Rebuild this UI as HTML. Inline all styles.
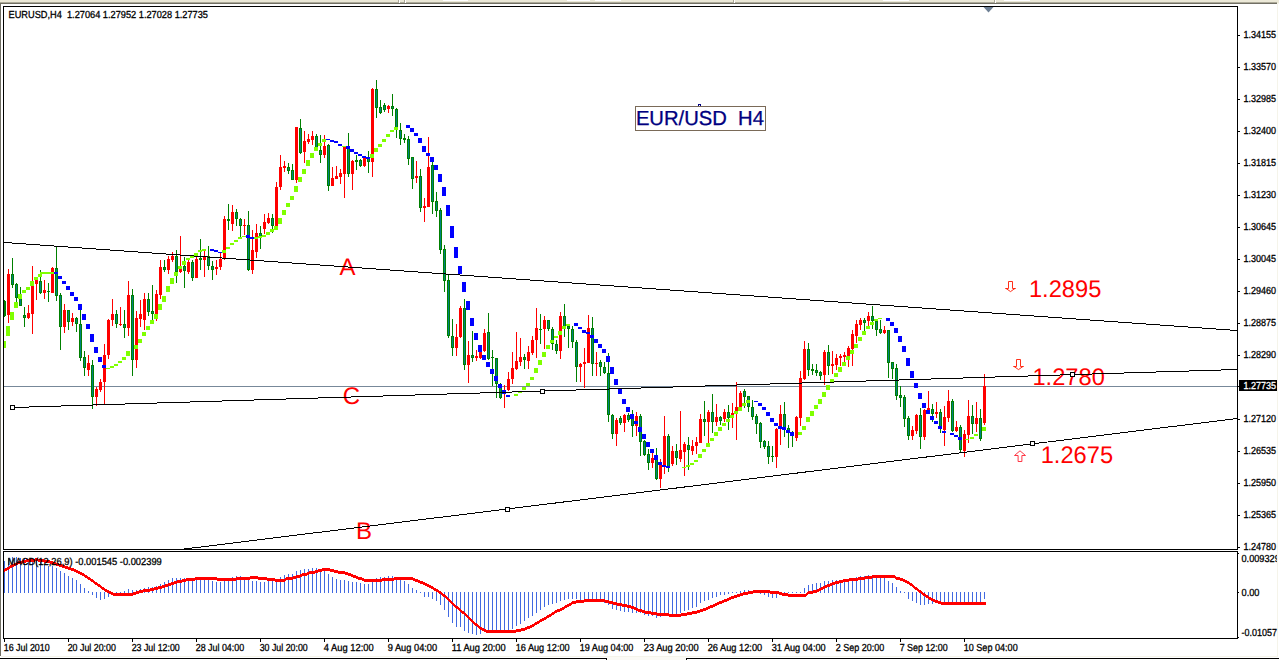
<!DOCTYPE html>
<html><head><meta charset="utf-8"><title>EURUSD H4</title>
<style>
html,body{margin:0;padding:0;background:#fff;overflow:hidden}
svg{display:block}
text{font-family:"Liberation Sans",sans-serif;text-rendering:geometricPrecision}
</style></head><body>
<svg width="1279" height="660" viewBox="0 0 1279 660" shape-rendering="crispEdges">
<rect x="0" y="0" width="1279" height="660" fill="#FFFFFF"/>
<rect x="0" y="0" width="1279" height="2" fill="#ECE9D8"/>
<rect x="0" y="2" width="1277" height="1" fill="#ADAA99"/>
<rect x="1277" y="2" width="2" height="1" fill="#ECE9D8"/>
<rect x="0" y="3" width="1277" height="1" fill="#716F64"/>
<rect x="1277" y="3" width="2" height="1" fill="#F5F4EA"/>
<rect x="0" y="4" width="1" height="652" fill="#716F64"/>
<rect x="1277" y="4" width="1" height="652" fill="#F5F4EA"/>
<rect x="1" y="656" width="1277" height="1" fill="#F5F4EA"/>
<rect x="0" y="658" width="607" height="1" fill="#000"/>
<rect x="686" y="658" width="593" height="1" fill="#000"/>
<rect x="606" y="658" width="1" height="2" fill="#000"/>
<rect x="686" y="658" width="1" height="2" fill="#000"/>
<rect x="607" y="657" width="79" height="3" fill="#FBFAF5"/>
<rect x="398" y="0" width="1" height="3" fill="#ACA899"/>
<rect x="399" y="0" width="1" height="3" fill="#FFFFFF"/>
<rect x="404" y="0" width="1" height="3" fill="#ACA899"/>
<rect x="405" y="0" width="1" height="3" fill="#FFFFFF"/>
<rect x="733" y="0" width="1" height="3" fill="#ACA899"/>
<rect x="734" y="0" width="1" height="3" fill="#FFFFFF"/>
<rect x="994" y="0" width="1" height="3" fill="#ACA899"/>
<rect x="995" y="0" width="1" height="3" fill="#FFFFFF"/>
<rect x="443" y="0" width="25" height="1" fill="#FFFFFF"/>
<rect x="567" y="0" width="23" height="1" fill="#FFFFFF"/>
<rect x="595" y="0" width="26" height="1" fill="#FFFFFF"/>
<rect x="883" y="0" width="26" height="1" fill="#FFFFFF"/>
<rect x="1004" y="0" width="26" height="1" fill="#FFFFFF"/>
<rect x="3" y="6" width="1235" height="1" fill="#000"/>
<rect x="3" y="6" width="1" height="544" fill="#000"/>
<rect x="3" y="551" width="1" height="88" fill="#000"/>
<rect x="1237" y="6" width="1" height="544" fill="#000"/>
<rect x="1237" y="551" width="1" height="88" fill="#000"/>
<rect x="3" y="549" width="1235" height="1" fill="#000"/>
<rect x="3" y="551" width="1235" height="1" fill="#000"/>
<rect x="3" y="638" width="1235" height="1" fill="#000"/>
<rect x="4" y="386" width="1233" height="1" fill="#778899"/>
<rect x="4" y="300" width="1" height="17" fill="#008000"/>
<rect x="4" y="301" width="2" height="15" fill="#008000"/>
<rect x="8" y="269" width="1" height="54" fill="#FF0000"/>
<rect x="7" y="274" width="3" height="41" fill="#FF0000"/>
<rect x="12" y="258" width="1" height="30" fill="#008000"/>
<rect x="11" y="274" width="3" height="11" fill="#008000"/>
<rect x="12" y="275" width="1" height="9" fill="#008080"/>
<rect x="16" y="283" width="1" height="19" fill="#008000"/>
<rect x="15" y="284" width="3" height="14" fill="#008000"/>
<rect x="16" y="285" width="1" height="12" fill="#008080"/>
<rect x="20" y="287" width="1" height="19" fill="#008000"/>
<rect x="19" y="294" width="3" height="12" fill="#008000"/>
<rect x="20" y="295" width="1" height="10" fill="#008080"/>
<rect x="24" y="307" width="1" height="20" fill="#008000"/>
<rect x="23" y="315" width="3" height="3" fill="#008000"/>
<rect x="24" y="316" width="1" height="1" fill="#008080"/>
<rect x="28" y="305" width="1" height="14" fill="#FF0000"/>
<rect x="27" y="313" width="3" height="5" fill="#FF0000"/>
<rect x="32" y="266" width="1" height="68" fill="#FF0000"/>
<rect x="31" y="285" width="3" height="29" fill="#FF0000"/>
<rect x="36" y="280" width="1" height="20" fill="#FF0000"/>
<rect x="35" y="280" width="3" height="4" fill="#FF0000"/>
<rect x="40" y="270" width="1" height="24" fill="#008000"/>
<rect x="39" y="281" width="3" height="12" fill="#008000"/>
<rect x="40" y="282" width="1" height="10" fill="#008080"/>
<rect x="44" y="280" width="1" height="19" fill="#FF0000"/>
<rect x="43" y="290" width="3" height="3" fill="#FF0000"/>
<rect x="48" y="283" width="1" height="19" fill="#008000"/>
<rect x="47" y="291" width="3" height="1" fill="#008000"/>
<rect x="52" y="267" width="1" height="26" fill="#FF0000"/>
<rect x="51" y="268" width="3" height="25" fill="#FF0000"/>
<rect x="56" y="246" width="1" height="55" fill="#008000"/>
<rect x="55" y="268" width="3" height="28" fill="#008000"/>
<rect x="56" y="269" width="1" height="26" fill="#008080"/>
<rect x="60" y="293" width="1" height="57" fill="#008000"/>
<rect x="59" y="295" width="3" height="32" fill="#008000"/>
<rect x="60" y="296" width="1" height="30" fill="#008080"/>
<rect x="64" y="304" width="1" height="29" fill="#FF0000"/>
<rect x="63" y="310" width="3" height="17" fill="#FF0000"/>
<rect x="68" y="310" width="1" height="20" fill="#008000"/>
<rect x="67" y="310" width="3" height="12" fill="#008000"/>
<rect x="68" y="311" width="1" height="10" fill="#008080"/>
<rect x="72" y="313" width="1" height="13" fill="#FF0000"/>
<rect x="71" y="318" width="3" height="4" fill="#FF0000"/>
<rect x="76" y="317" width="1" height="15" fill="#008000"/>
<rect x="75" y="318" width="3" height="6" fill="#008000"/>
<rect x="76" y="319" width="1" height="4" fill="#008080"/>
<rect x="80" y="310" width="1" height="51" fill="#008000"/>
<rect x="79" y="324" width="3" height="34" fill="#008000"/>
<rect x="80" y="325" width="1" height="32" fill="#008080"/>
<rect x="84" y="351" width="1" height="25" fill="#008000"/>
<rect x="83" y="357" width="3" height="11" fill="#008000"/>
<rect x="84" y="358" width="1" height="9" fill="#008080"/>
<rect x="88" y="355" width="1" height="21" fill="#FF0000"/>
<rect x="87" y="363" width="3" height="7" fill="#FF0000"/>
<rect x="92" y="360" width="1" height="49" fill="#008000"/>
<rect x="91" y="365" width="3" height="32" fill="#008000"/>
<rect x="92" y="366" width="1" height="30" fill="#008080"/>
<rect x="96" y="387" width="1" height="19" fill="#FF0000"/>
<rect x="95" y="389" width="3" height="8" fill="#FF0000"/>
<rect x="100" y="379" width="1" height="13" fill="#FF0000"/>
<rect x="99" y="382" width="3" height="8" fill="#FF0000"/>
<rect x="104" y="344" width="1" height="60" fill="#FF0000"/>
<rect x="103" y="355" width="3" height="27" fill="#FF0000"/>
<rect x="108" y="319" width="1" height="40" fill="#FF0000"/>
<rect x="107" y="320" width="3" height="35" fill="#FF0000"/>
<rect x="112" y="299" width="1" height="27" fill="#FF0000"/>
<rect x="111" y="314" width="3" height="6" fill="#FF0000"/>
<rect x="116" y="310" width="1" height="18" fill="#008000"/>
<rect x="115" y="314" width="3" height="10" fill="#008000"/>
<rect x="116" y="315" width="1" height="8" fill="#008080"/>
<rect x="120" y="307" width="1" height="19" fill="#FF0000"/>
<rect x="119" y="324" width="3" height="1" fill="#FF0000"/>
<rect x="124" y="310" width="1" height="28" fill="#008000"/>
<rect x="123" y="324" width="3" height="4" fill="#008000"/>
<rect x="124" y="325" width="1" height="2" fill="#008080"/>
<rect x="128" y="281" width="1" height="55" fill="#FF0000"/>
<rect x="127" y="295" width="3" height="33" fill="#FF0000"/>
<rect x="132" y="289" width="1" height="87" fill="#008000"/>
<rect x="131" y="295" width="3" height="65" fill="#008000"/>
<rect x="132" y="296" width="1" height="63" fill="#008080"/>
<rect x="136" y="311" width="1" height="57" fill="#FF0000"/>
<rect x="135" y="318" width="3" height="42" fill="#FF0000"/>
<rect x="140" y="300" width="1" height="27" fill="#FF0000"/>
<rect x="139" y="314" width="3" height="5" fill="#FF0000"/>
<rect x="144" y="293" width="1" height="37" fill="#FF0000"/>
<rect x="143" y="299" width="3" height="21" fill="#FF0000"/>
<rect x="148" y="293" width="1" height="23" fill="#008000"/>
<rect x="147" y="299" width="3" height="13" fill="#008000"/>
<rect x="148" y="300" width="1" height="11" fill="#008080"/>
<rect x="152" y="285" width="1" height="35" fill="#008000"/>
<rect x="151" y="311" width="3" height="3" fill="#008000"/>
<rect x="152" y="312" width="1" height="1" fill="#008080"/>
<rect x="156" y="290" width="1" height="31" fill="#FF0000"/>
<rect x="155" y="294" width="3" height="20" fill="#FF0000"/>
<rect x="160" y="260" width="1" height="39" fill="#FF0000"/>
<rect x="159" y="267" width="3" height="28" fill="#FF0000"/>
<rect x="164" y="260" width="1" height="12" fill="#008000"/>
<rect x="163" y="267" width="3" height="3" fill="#008000"/>
<rect x="164" y="268" width="1" height="1" fill="#008080"/>
<rect x="168" y="256" width="1" height="18" fill="#FF0000"/>
<rect x="167" y="259" width="3" height="11" fill="#FF0000"/>
<rect x="172" y="252" width="1" height="10" fill="#FF0000"/>
<rect x="171" y="256" width="3" height="4" fill="#FF0000"/>
<rect x="176" y="250" width="1" height="33" fill="#008000"/>
<rect x="175" y="256" width="3" height="16" fill="#008000"/>
<rect x="176" y="257" width="1" height="14" fill="#008080"/>
<rect x="180" y="236" width="1" height="37" fill="#FF0000"/>
<rect x="179" y="266" width="3" height="6" fill="#FF0000"/>
<rect x="184" y="257" width="1" height="31" fill="#008000"/>
<rect x="183" y="266" width="3" height="5" fill="#008000"/>
<rect x="184" y="267" width="1" height="3" fill="#008080"/>
<rect x="188" y="260" width="1" height="14" fill="#FF0000"/>
<rect x="187" y="262" width="3" height="10" fill="#FF0000"/>
<rect x="192" y="260" width="1" height="21" fill="#008000"/>
<rect x="191" y="262" width="3" height="16" fill="#008000"/>
<rect x="192" y="263" width="1" height="14" fill="#008080"/>
<rect x="196" y="255" width="1" height="23" fill="#FF0000"/>
<rect x="195" y="259" width="3" height="19" fill="#FF0000"/>
<rect x="200" y="239" width="1" height="31" fill="#008000"/>
<rect x="199" y="258" width="3" height="2" fill="#008000"/>
<rect x="204" y="251" width="1" height="26" fill="#FF0000"/>
<rect x="203" y="256" width="3" height="4" fill="#FF0000"/>
<rect x="208" y="246" width="1" height="24" fill="#008000"/>
<rect x="207" y="256" width="3" height="10" fill="#008000"/>
<rect x="208" y="257" width="1" height="8" fill="#008080"/>
<rect x="212" y="261" width="1" height="19" fill="#008000"/>
<rect x="211" y="266" width="3" height="4" fill="#008000"/>
<rect x="212" y="267" width="1" height="2" fill="#008080"/>
<rect x="216" y="260" width="1" height="15" fill="#FF0000"/>
<rect x="215" y="267" width="3" height="2" fill="#FF0000"/>
<rect x="220" y="253" width="1" height="17" fill="#FF0000"/>
<rect x="219" y="259" width="3" height="8" fill="#FF0000"/>
<rect x="224" y="216" width="1" height="44" fill="#FF0000"/>
<rect x="223" y="219" width="3" height="40" fill="#FF0000"/>
<rect x="228" y="204" width="1" height="26" fill="#008000"/>
<rect x="227" y="219" width="3" height="2" fill="#008000"/>
<rect x="232" y="205" width="1" height="26" fill="#FF0000"/>
<rect x="231" y="212" width="3" height="12" fill="#FF0000"/>
<rect x="236" y="209" width="1" height="17" fill="#008000"/>
<rect x="235" y="212" width="3" height="7" fill="#008000"/>
<rect x="236" y="213" width="1" height="5" fill="#008080"/>
<rect x="240" y="218" width="1" height="19" fill="#008000"/>
<rect x="239" y="219" width="3" height="7" fill="#008000"/>
<rect x="240" y="220" width="1" height="5" fill="#008080"/>
<rect x="244" y="219" width="1" height="16" fill="#FF0000"/>
<rect x="243" y="225" width="3" height="1" fill="#FF0000"/>
<rect x="248" y="211" width="1" height="60" fill="#008000"/>
<rect x="247" y="225" width="3" height="45" fill="#008000"/>
<rect x="248" y="226" width="1" height="43" fill="#008080"/>
<rect x="252" y="230" width="1" height="44" fill="#FF0000"/>
<rect x="251" y="250" width="3" height="20" fill="#FF0000"/>
<rect x="256" y="224" width="1" height="34" fill="#FF0000"/>
<rect x="255" y="233" width="3" height="19" fill="#FF0000"/>
<rect x="260" y="226" width="1" height="23" fill="#008000"/>
<rect x="259" y="233" width="3" height="5" fill="#008000"/>
<rect x="260" y="234" width="1" height="3" fill="#008080"/>
<rect x="264" y="214" width="1" height="20" fill="#FF0000"/>
<rect x="263" y="222" width="3" height="7" fill="#FF0000"/>
<rect x="268" y="213" width="1" height="11" fill="#FF0000"/>
<rect x="267" y="218" width="3" height="5" fill="#FF0000"/>
<rect x="272" y="214" width="1" height="19" fill="#008000"/>
<rect x="271" y="218" width="3" height="8" fill="#008000"/>
<rect x="272" y="219" width="1" height="6" fill="#008080"/>
<rect x="276" y="182" width="1" height="44" fill="#FF0000"/>
<rect x="275" y="187" width="3" height="39" fill="#FF0000"/>
<rect x="280" y="155" width="1" height="35" fill="#FF0000"/>
<rect x="279" y="167" width="3" height="20" fill="#FF0000"/>
<rect x="284" y="161" width="1" height="11" fill="#FF0000"/>
<rect x="283" y="166" width="3" height="2" fill="#FF0000"/>
<rect x="288" y="163" width="1" height="11" fill="#008000"/>
<rect x="287" y="167" width="3" height="4" fill="#008000"/>
<rect x="288" y="168" width="1" height="2" fill="#008080"/>
<rect x="292" y="164" width="1" height="16" fill="#008000"/>
<rect x="291" y="170" width="3" height="10" fill="#008000"/>
<rect x="292" y="171" width="1" height="8" fill="#008080"/>
<rect x="296" y="127" width="1" height="56" fill="#FF0000"/>
<rect x="295" y="127" width="3" height="53" fill="#FF0000"/>
<rect x="300" y="119" width="1" height="35" fill="#008000"/>
<rect x="299" y="128" width="3" height="25" fill="#008000"/>
<rect x="300" y="129" width="1" height="23" fill="#008080"/>
<rect x="304" y="131" width="1" height="32" fill="#FF0000"/>
<rect x="303" y="141" width="3" height="11" fill="#FF0000"/>
<rect x="308" y="134" width="1" height="10" fill="#FF0000"/>
<rect x="307" y="139" width="3" height="3" fill="#FF0000"/>
<rect x="312" y="131" width="1" height="14" fill="#FF0000"/>
<rect x="311" y="136" width="3" height="4" fill="#FF0000"/>
<rect x="316" y="134" width="1" height="17" fill="#008000"/>
<rect x="315" y="136" width="3" height="15" fill="#008000"/>
<rect x="316" y="137" width="1" height="13" fill="#008080"/>
<rect x="320" y="135" width="1" height="28" fill="#008000"/>
<rect x="319" y="150" width="3" height="5" fill="#008000"/>
<rect x="320" y="151" width="1" height="3" fill="#008080"/>
<rect x="324" y="135" width="1" height="23" fill="#FF0000"/>
<rect x="323" y="146" width="3" height="9" fill="#FF0000"/>
<rect x="328" y="144" width="1" height="47" fill="#008000"/>
<rect x="327" y="145" width="3" height="41" fill="#008000"/>
<rect x="328" y="146" width="1" height="39" fill="#008080"/>
<rect x="332" y="167" width="1" height="19" fill="#FF0000"/>
<rect x="331" y="178" width="3" height="8" fill="#FF0000"/>
<rect x="336" y="166" width="1" height="13" fill="#FF0000"/>
<rect x="335" y="176" width="3" height="3" fill="#FF0000"/>
<rect x="340" y="169" width="1" height="15" fill="#FF0000"/>
<rect x="339" y="173" width="3" height="4" fill="#FF0000"/>
<rect x="344" y="146" width="1" height="52" fill="#FF0000"/>
<rect x="343" y="147" width="3" height="27" fill="#FF0000"/>
<rect x="348" y="133" width="1" height="44" fill="#008000"/>
<rect x="347" y="146" width="3" height="28" fill="#008000"/>
<rect x="348" y="147" width="1" height="26" fill="#008080"/>
<rect x="352" y="160" width="1" height="30" fill="#FF0000"/>
<rect x="351" y="161" width="3" height="13" fill="#FF0000"/>
<rect x="356" y="155" width="1" height="15" fill="#008000"/>
<rect x="355" y="160" width="3" height="2" fill="#008000"/>
<rect x="360" y="159" width="1" height="8" fill="#008000"/>
<rect x="359" y="160" width="3" height="6" fill="#008000"/>
<rect x="360" y="161" width="1" height="4" fill="#008080"/>
<rect x="364" y="158" width="1" height="9" fill="#FF0000"/>
<rect x="363" y="158" width="3" height="8" fill="#FF0000"/>
<rect x="368" y="151" width="1" height="22" fill="#008000"/>
<rect x="367" y="158" width="3" height="4" fill="#008000"/>
<rect x="368" y="159" width="1" height="2" fill="#008080"/>
<rect x="372" y="88" width="1" height="89" fill="#FF0000"/>
<rect x="371" y="89" width="3" height="73" fill="#FF0000"/>
<rect x="376" y="80" width="1" height="38" fill="#008000"/>
<rect x="375" y="89" width="3" height="19" fill="#008000"/>
<rect x="376" y="90" width="1" height="17" fill="#008080"/>
<rect x="380" y="100" width="1" height="14" fill="#008000"/>
<rect x="379" y="107" width="3" height="6" fill="#008000"/>
<rect x="380" y="108" width="1" height="4" fill="#008080"/>
<rect x="384" y="103" width="1" height="9" fill="#008000"/>
<rect x="383" y="105" width="3" height="5" fill="#008000"/>
<rect x="384" y="106" width="1" height="3" fill="#008080"/>
<rect x="388" y="105" width="1" height="8" fill="#FF0000"/>
<rect x="387" y="106" width="3" height="3" fill="#FF0000"/>
<rect x="392" y="94" width="1" height="22" fill="#008000"/>
<rect x="391" y="106" width="3" height="3" fill="#008000"/>
<rect x="392" y="107" width="1" height="1" fill="#008080"/>
<rect x="396" y="108" width="1" height="30" fill="#008000"/>
<rect x="395" y="109" width="3" height="21" fill="#008000"/>
<rect x="396" y="110" width="1" height="19" fill="#008080"/>
<rect x="400" y="123" width="1" height="22" fill="#008000"/>
<rect x="399" y="130" width="3" height="9" fill="#008000"/>
<rect x="400" y="131" width="1" height="7" fill="#008080"/>
<rect x="404" y="134" width="1" height="9" fill="#008000"/>
<rect x="403" y="138" width="3" height="2" fill="#008000"/>
<rect x="408" y="136" width="1" height="29" fill="#008000"/>
<rect x="407" y="139" width="3" height="20" fill="#008000"/>
<rect x="408" y="140" width="1" height="18" fill="#008080"/>
<rect x="412" y="157" width="1" height="32" fill="#008000"/>
<rect x="411" y="157" width="3" height="22" fill="#008000"/>
<rect x="412" y="158" width="1" height="20" fill="#008080"/>
<rect x="416" y="161" width="1" height="22" fill="#FF0000"/>
<rect x="415" y="176" width="3" height="2" fill="#FF0000"/>
<rect x="420" y="169" width="1" height="43" fill="#008000"/>
<rect x="419" y="176" width="3" height="32" fill="#008000"/>
<rect x="420" y="177" width="1" height="30" fill="#008080"/>
<rect x="424" y="198" width="1" height="24" fill="#FF0000"/>
<rect x="423" y="206" width="3" height="2" fill="#FF0000"/>
<rect x="428" y="137" width="1" height="70" fill="#FF0000"/>
<rect x="427" y="167" width="3" height="40" fill="#FF0000"/>
<rect x="432" y="162" width="1" height="52" fill="#008000"/>
<rect x="431" y="165" width="3" height="37" fill="#008000"/>
<rect x="432" y="166" width="1" height="35" fill="#008080"/>
<rect x="436" y="192" width="1" height="25" fill="#008000"/>
<rect x="435" y="201" width="3" height="10" fill="#008000"/>
<rect x="436" y="202" width="1" height="8" fill="#008080"/>
<rect x="440" y="208" width="1" height="46" fill="#008000"/>
<rect x="439" y="210" width="3" height="40" fill="#008000"/>
<rect x="440" y="211" width="1" height="38" fill="#008080"/>
<rect x="444" y="245" width="1" height="47" fill="#008000"/>
<rect x="443" y="249" width="3" height="32" fill="#008000"/>
<rect x="444" y="250" width="1" height="30" fill="#008080"/>
<rect x="448" y="275" width="1" height="63" fill="#008000"/>
<rect x="447" y="280" width="3" height="56" fill="#008000"/>
<rect x="448" y="281" width="1" height="54" fill="#008080"/>
<rect x="452" y="319" width="1" height="37" fill="#008000"/>
<rect x="451" y="336" width="3" height="12" fill="#008000"/>
<rect x="452" y="337" width="1" height="10" fill="#008080"/>
<rect x="456" y="324" width="1" height="32" fill="#FF0000"/>
<rect x="455" y="337" width="3" height="11" fill="#FF0000"/>
<rect x="460" y="306" width="1" height="32" fill="#FF0000"/>
<rect x="459" y="308" width="3" height="29" fill="#FF0000"/>
<rect x="464" y="299" width="1" height="71" fill="#008000"/>
<rect x="463" y="308" width="3" height="57" fill="#008000"/>
<rect x="464" y="309" width="1" height="55" fill="#008080"/>
<rect x="468" y="341" width="1" height="42" fill="#FF0000"/>
<rect x="467" y="355" width="3" height="10" fill="#FF0000"/>
<rect x="472" y="331" width="1" height="31" fill="#008000"/>
<rect x="471" y="355" width="3" height="3" fill="#008000"/>
<rect x="472" y="356" width="1" height="1" fill="#008080"/>
<rect x="476" y="350" width="1" height="11" fill="#FF0000"/>
<rect x="475" y="356" width="3" height="2" fill="#FF0000"/>
<rect x="480" y="345" width="1" height="14" fill="#FF0000"/>
<rect x="479" y="352" width="3" height="6" fill="#FF0000"/>
<rect x="484" y="329" width="1" height="23" fill="#FF0000"/>
<rect x="483" y="333" width="3" height="18" fill="#FF0000"/>
<rect x="488" y="313" width="1" height="47" fill="#008000"/>
<rect x="487" y="332" width="3" height="27" fill="#008000"/>
<rect x="488" y="333" width="1" height="25" fill="#008080"/>
<rect x="492" y="350" width="1" height="36" fill="#008000"/>
<rect x="491" y="357" width="3" height="1" fill="#008000"/>
<rect x="496" y="358" width="1" height="40" fill="#008000"/>
<rect x="495" y="358" width="3" height="26" fill="#008000"/>
<rect x="496" y="359" width="1" height="24" fill="#008080"/>
<rect x="500" y="383" width="1" height="16" fill="#008000"/>
<rect x="499" y="386" width="3" height="12" fill="#008000"/>
<rect x="500" y="387" width="1" height="10" fill="#008080"/>
<rect x="504" y="385" width="1" height="23" fill="#FF0000"/>
<rect x="503" y="390" width="3" height="4" fill="#FF0000"/>
<rect x="508" y="372" width="1" height="19" fill="#FF0000"/>
<rect x="507" y="379" width="3" height="11" fill="#FF0000"/>
<rect x="512" y="352" width="1" height="32" fill="#FF0000"/>
<rect x="511" y="368" width="3" height="11" fill="#FF0000"/>
<rect x="516" y="332" width="1" height="38" fill="#FF0000"/>
<rect x="515" y="361" width="3" height="8" fill="#FF0000"/>
<rect x="520" y="338" width="1" height="28" fill="#FF0000"/>
<rect x="519" y="357" width="3" height="5" fill="#FF0000"/>
<rect x="524" y="354" width="1" height="15" fill="#008000"/>
<rect x="523" y="357" width="3" height="3" fill="#008000"/>
<rect x="524" y="358" width="1" height="1" fill="#008080"/>
<rect x="528" y="346" width="1" height="23" fill="#FF0000"/>
<rect x="527" y="352" width="3" height="9" fill="#FF0000"/>
<rect x="532" y="336" width="1" height="19" fill="#FF0000"/>
<rect x="531" y="340" width="3" height="13" fill="#FF0000"/>
<rect x="536" y="308" width="1" height="50" fill="#FF0000"/>
<rect x="535" y="328" width="3" height="12" fill="#FF0000"/>
<rect x="540" y="314" width="1" height="30" fill="#008000"/>
<rect x="539" y="329" width="3" height="1" fill="#008000"/>
<rect x="544" y="316" width="1" height="33" fill="#FF0000"/>
<rect x="543" y="320" width="3" height="9" fill="#FF0000"/>
<rect x="548" y="320" width="1" height="11" fill="#008000"/>
<rect x="547" y="320" width="3" height="9" fill="#008000"/>
<rect x="548" y="321" width="1" height="7" fill="#008080"/>
<rect x="552" y="327" width="1" height="23" fill="#008000"/>
<rect x="551" y="329" width="3" height="15" fill="#008000"/>
<rect x="552" y="330" width="1" height="13" fill="#008080"/>
<rect x="556" y="340" width="1" height="14" fill="#008000"/>
<rect x="555" y="344" width="3" height="7" fill="#008000"/>
<rect x="556" y="345" width="1" height="5" fill="#008080"/>
<rect x="560" y="312" width="1" height="47" fill="#FF0000"/>
<rect x="559" y="316" width="3" height="35" fill="#FF0000"/>
<rect x="564" y="304" width="1" height="33" fill="#008000"/>
<rect x="563" y="316" width="3" height="11" fill="#008000"/>
<rect x="564" y="317" width="1" height="9" fill="#008080"/>
<rect x="568" y="325" width="1" height="23" fill="#008000"/>
<rect x="567" y="326" width="3" height="3" fill="#008000"/>
<rect x="568" y="327" width="1" height="1" fill="#008080"/>
<rect x="572" y="326" width="1" height="22" fill="#008000"/>
<rect x="571" y="329" width="3" height="13" fill="#008000"/>
<rect x="572" y="330" width="1" height="11" fill="#008080"/>
<rect x="576" y="340" width="1" height="42" fill="#008000"/>
<rect x="575" y="342" width="3" height="25" fill="#008000"/>
<rect x="576" y="343" width="1" height="23" fill="#008080"/>
<rect x="580" y="363" width="1" height="19" fill="#FF0000"/>
<rect x="579" y="364" width="3" height="3" fill="#FF0000"/>
<rect x="584" y="348" width="1" height="40" fill="#FF0000"/>
<rect x="583" y="362" width="3" height="2" fill="#FF0000"/>
<rect x="588" y="315" width="1" height="48" fill="#FF0000"/>
<rect x="587" y="328" width="3" height="35" fill="#FF0000"/>
<rect x="592" y="317" width="1" height="59" fill="#008000"/>
<rect x="591" y="328" width="3" height="36" fill="#008000"/>
<rect x="592" y="329" width="1" height="34" fill="#008080"/>
<rect x="596" y="352" width="1" height="24" fill="#FF0000"/>
<rect x="595" y="363" width="3" height="1" fill="#FF0000"/>
<rect x="600" y="360" width="1" height="16" fill="#008000"/>
<rect x="599" y="362" width="3" height="5" fill="#008000"/>
<rect x="600" y="363" width="1" height="3" fill="#008080"/>
<rect x="604" y="362" width="1" height="12" fill="#008000"/>
<rect x="603" y="367" width="3" height="6" fill="#008000"/>
<rect x="604" y="368" width="1" height="4" fill="#008080"/>
<rect x="608" y="353" width="1" height="69" fill="#008000"/>
<rect x="607" y="373" width="3" height="42" fill="#008000"/>
<rect x="608" y="374" width="1" height="40" fill="#008080"/>
<rect x="612" y="414" width="1" height="25" fill="#008000"/>
<rect x="611" y="415" width="3" height="19" fill="#008000"/>
<rect x="612" y="416" width="1" height="17" fill="#008080"/>
<rect x="616" y="418" width="1" height="28" fill="#FF0000"/>
<rect x="615" y="420" width="3" height="14" fill="#FF0000"/>
<rect x="620" y="416" width="1" height="9" fill="#008000"/>
<rect x="619" y="418" width="3" height="5" fill="#008000"/>
<rect x="620" y="419" width="1" height="3" fill="#008080"/>
<rect x="624" y="414" width="1" height="18" fill="#FF0000"/>
<rect x="623" y="415" width="3" height="8" fill="#FF0000"/>
<rect x="628" y="413" width="1" height="9" fill="#008000"/>
<rect x="627" y="415" width="3" height="5" fill="#008000"/>
<rect x="628" y="416" width="1" height="3" fill="#008080"/>
<rect x="632" y="410" width="1" height="27" fill="#008000"/>
<rect x="631" y="414" width="3" height="12" fill="#008000"/>
<rect x="632" y="415" width="1" height="10" fill="#008080"/>
<rect x="636" y="412" width="1" height="24" fill="#FF0000"/>
<rect x="635" y="416" width="3" height="10" fill="#FF0000"/>
<rect x="640" y="414" width="1" height="42" fill="#008000"/>
<rect x="639" y="416" width="3" height="26" fill="#008000"/>
<rect x="640" y="417" width="1" height="24" fill="#008080"/>
<rect x="644" y="440" width="1" height="16" fill="#008000"/>
<rect x="643" y="441" width="3" height="14" fill="#008000"/>
<rect x="644" y="442" width="1" height="12" fill="#008080"/>
<rect x="648" y="449" width="1" height="21" fill="#008000"/>
<rect x="647" y="454" width="3" height="9" fill="#008000"/>
<rect x="648" y="455" width="1" height="7" fill="#008080"/>
<rect x="652" y="453" width="1" height="15" fill="#FF0000"/>
<rect x="651" y="458" width="3" height="5" fill="#FF0000"/>
<rect x="656" y="448" width="1" height="32" fill="#008000"/>
<rect x="655" y="458" width="3" height="21" fill="#008000"/>
<rect x="656" y="459" width="1" height="19" fill="#008080"/>
<rect x="660" y="459" width="1" height="29" fill="#FF0000"/>
<rect x="659" y="465" width="3" height="14" fill="#FF0000"/>
<rect x="664" y="416" width="1" height="58" fill="#FF0000"/>
<rect x="663" y="436" width="3" height="29" fill="#FF0000"/>
<rect x="668" y="434" width="1" height="38" fill="#008000"/>
<rect x="667" y="436" width="3" height="31" fill="#008000"/>
<rect x="668" y="437" width="1" height="29" fill="#008080"/>
<rect x="672" y="446" width="1" height="20" fill="#FF0000"/>
<rect x="671" y="451" width="3" height="13" fill="#FF0000"/>
<rect x="676" y="444" width="1" height="21" fill="#008000"/>
<rect x="675" y="451" width="3" height="7" fill="#008000"/>
<rect x="676" y="452" width="1" height="5" fill="#008080"/>
<rect x="680" y="411" width="1" height="51" fill="#FF0000"/>
<rect x="679" y="450" width="3" height="9" fill="#FF0000"/>
<rect x="684" y="442" width="1" height="34" fill="#FF0000"/>
<rect x="683" y="444" width="3" height="8" fill="#FF0000"/>
<rect x="688" y="437" width="1" height="33" fill="#008000"/>
<rect x="687" y="445" width="3" height="5" fill="#008000"/>
<rect x="688" y="446" width="1" height="3" fill="#008080"/>
<rect x="692" y="440" width="1" height="15" fill="#FF0000"/>
<rect x="691" y="446" width="3" height="5" fill="#FF0000"/>
<rect x="696" y="437" width="1" height="17" fill="#FF0000"/>
<rect x="695" y="442" width="3" height="4" fill="#FF0000"/>
<rect x="700" y="414" width="1" height="29" fill="#FF0000"/>
<rect x="699" y="419" width="3" height="24" fill="#FF0000"/>
<rect x="704" y="401" width="1" height="35" fill="#008000"/>
<rect x="703" y="419" width="3" height="3" fill="#008000"/>
<rect x="704" y="420" width="1" height="1" fill="#008080"/>
<rect x="708" y="410" width="1" height="33" fill="#FF0000"/>
<rect x="707" y="412" width="3" height="10" fill="#FF0000"/>
<rect x="712" y="394" width="1" height="39" fill="#008000"/>
<rect x="711" y="412" width="3" height="10" fill="#008000"/>
<rect x="712" y="413" width="1" height="8" fill="#008080"/>
<rect x="716" y="404" width="1" height="22" fill="#FF0000"/>
<rect x="715" y="417" width="3" height="5" fill="#FF0000"/>
<rect x="720" y="416" width="1" height="9" fill="#008000"/>
<rect x="719" y="417" width="3" height="4" fill="#008000"/>
<rect x="720" y="418" width="1" height="2" fill="#008080"/>
<rect x="724" y="409" width="1" height="13" fill="#FF0000"/>
<rect x="723" y="412" width="3" height="7" fill="#FF0000"/>
<rect x="728" y="405" width="1" height="25" fill="#008000"/>
<rect x="727" y="412" width="3" height="6" fill="#008000"/>
<rect x="728" y="413" width="1" height="4" fill="#008080"/>
<rect x="732" y="403" width="1" height="25" fill="#FF0000"/>
<rect x="731" y="413" width="3" height="2" fill="#FF0000"/>
<rect x="736" y="382" width="1" height="58" fill="#FF0000"/>
<rect x="735" y="407" width="3" height="4" fill="#FF0000"/>
<rect x="740" y="391" width="1" height="16" fill="#FF0000"/>
<rect x="739" y="393" width="3" height="14" fill="#FF0000"/>
<rect x="744" y="389" width="1" height="19" fill="#008000"/>
<rect x="743" y="391" width="3" height="6" fill="#008000"/>
<rect x="744" y="392" width="1" height="4" fill="#008080"/>
<rect x="748" y="396" width="1" height="16" fill="#008000"/>
<rect x="747" y="396" width="3" height="11" fill="#008000"/>
<rect x="748" y="397" width="1" height="9" fill="#008080"/>
<rect x="752" y="400" width="1" height="20" fill="#008000"/>
<rect x="751" y="407" width="3" height="10" fill="#008000"/>
<rect x="752" y="408" width="1" height="8" fill="#008080"/>
<rect x="756" y="414" width="1" height="20" fill="#008000"/>
<rect x="755" y="416" width="3" height="8" fill="#008000"/>
<rect x="756" y="417" width="1" height="6" fill="#008080"/>
<rect x="760" y="422" width="1" height="26" fill="#008000"/>
<rect x="759" y="423" width="3" height="19" fill="#008000"/>
<rect x="760" y="424" width="1" height="17" fill="#008080"/>
<rect x="764" y="440" width="1" height="9" fill="#008000"/>
<rect x="763" y="441" width="3" height="6" fill="#008000"/>
<rect x="764" y="442" width="1" height="4" fill="#008080"/>
<rect x="768" y="441" width="1" height="23" fill="#008000"/>
<rect x="767" y="446" width="3" height="11" fill="#008000"/>
<rect x="768" y="447" width="1" height="9" fill="#008080"/>
<rect x="772" y="446" width="1" height="16" fill="#008000"/>
<rect x="771" y="456" width="3" height="1" fill="#008000"/>
<rect x="776" y="428" width="1" height="40" fill="#FF0000"/>
<rect x="775" y="429" width="3" height="28" fill="#FF0000"/>
<rect x="780" y="405" width="1" height="40" fill="#FF0000"/>
<rect x="779" y="414" width="3" height="15" fill="#FF0000"/>
<rect x="784" y="402" width="1" height="35" fill="#008000"/>
<rect x="783" y="414" width="3" height="15" fill="#008000"/>
<rect x="784" y="415" width="1" height="13" fill="#008080"/>
<rect x="788" y="425" width="1" height="23" fill="#008000"/>
<rect x="787" y="428" width="3" height="4" fill="#008000"/>
<rect x="788" y="429" width="1" height="2" fill="#008080"/>
<rect x="792" y="431" width="1" height="16" fill="#008000"/>
<rect x="791" y="432" width="3" height="4" fill="#008000"/>
<rect x="792" y="433" width="1" height="2" fill="#008080"/>
<rect x="796" y="416" width="1" height="25" fill="#FF0000"/>
<rect x="795" y="417" width="3" height="21" fill="#FF0000"/>
<rect x="800" y="371" width="1" height="55" fill="#FF0000"/>
<rect x="799" y="378" width="3" height="40" fill="#FF0000"/>
<rect x="804" y="341" width="1" height="39" fill="#FF0000"/>
<rect x="803" y="349" width="3" height="30" fill="#FF0000"/>
<rect x="808" y="343" width="1" height="33" fill="#008000"/>
<rect x="807" y="349" width="3" height="21" fill="#008000"/>
<rect x="808" y="350" width="1" height="19" fill="#008080"/>
<rect x="812" y="364" width="1" height="11" fill="#008000"/>
<rect x="811" y="369" width="3" height="2" fill="#008000"/>
<rect x="816" y="364" width="1" height="12" fill="#008000"/>
<rect x="815" y="370" width="3" height="3" fill="#008000"/>
<rect x="816" y="371" width="1" height="1" fill="#008080"/>
<rect x="820" y="371" width="1" height="9" fill="#008000"/>
<rect x="819" y="372" width="3" height="4" fill="#008000"/>
<rect x="820" y="373" width="1" height="2" fill="#008080"/>
<rect x="824" y="350" width="1" height="35" fill="#FF0000"/>
<rect x="823" y="352" width="3" height="23" fill="#FF0000"/>
<rect x="828" y="345" width="1" height="30" fill="#008000"/>
<rect x="827" y="352" width="3" height="14" fill="#008000"/>
<rect x="828" y="353" width="1" height="12" fill="#008080"/>
<rect x="832" y="351" width="1" height="23" fill="#FF0000"/>
<rect x="831" y="364" width="3" height="2" fill="#FF0000"/>
<rect x="836" y="354" width="1" height="16" fill="#FF0000"/>
<rect x="835" y="358" width="3" height="7" fill="#FF0000"/>
<rect x="840" y="354" width="1" height="12" fill="#FF0000"/>
<rect x="839" y="356" width="3" height="2" fill="#FF0000"/>
<rect x="844" y="352" width="1" height="10" fill="#FF0000"/>
<rect x="843" y="355" width="3" height="2" fill="#FF0000"/>
<rect x="848" y="346" width="1" height="21" fill="#FF0000"/>
<rect x="847" y="348" width="3" height="8" fill="#FF0000"/>
<rect x="852" y="330" width="1" height="36" fill="#FF0000"/>
<rect x="851" y="334" width="3" height="15" fill="#FF0000"/>
<rect x="856" y="320" width="1" height="23" fill="#FF0000"/>
<rect x="855" y="324" width="3" height="12" fill="#FF0000"/>
<rect x="860" y="318" width="1" height="12" fill="#FF0000"/>
<rect x="859" y="320" width="3" height="5" fill="#FF0000"/>
<rect x="864" y="318" width="1" height="13" fill="#008000"/>
<rect x="863" y="320" width="3" height="3" fill="#008000"/>
<rect x="864" y="321" width="1" height="1" fill="#008080"/>
<rect x="868" y="312" width="1" height="14" fill="#FF0000"/>
<rect x="867" y="316" width="3" height="5" fill="#FF0000"/>
<rect x="872" y="306" width="1" height="23" fill="#008000"/>
<rect x="871" y="316" width="3" height="5" fill="#008000"/>
<rect x="872" y="317" width="1" height="3" fill="#008080"/>
<rect x="876" y="320" width="1" height="16" fill="#008000"/>
<rect x="875" y="321" width="3" height="9" fill="#008000"/>
<rect x="876" y="322" width="1" height="7" fill="#008080"/>
<rect x="880" y="320" width="1" height="14" fill="#008000"/>
<rect x="879" y="329" width="3" height="4" fill="#008000"/>
<rect x="880" y="330" width="1" height="2" fill="#008080"/>
<rect x="884" y="326" width="1" height="8" fill="#FF0000"/>
<rect x="883" y="330" width="3" height="3" fill="#FF0000"/>
<rect x="888" y="330" width="1" height="48" fill="#008000"/>
<rect x="887" y="330" width="3" height="33" fill="#008000"/>
<rect x="888" y="331" width="1" height="31" fill="#008080"/>
<rect x="892" y="362" width="1" height="17" fill="#008000"/>
<rect x="891" y="362" width="3" height="7" fill="#008000"/>
<rect x="892" y="363" width="1" height="5" fill="#008080"/>
<rect x="896" y="364" width="1" height="36" fill="#008000"/>
<rect x="895" y="368" width="3" height="28" fill="#008000"/>
<rect x="896" y="369" width="1" height="26" fill="#008080"/>
<rect x="900" y="386" width="1" height="21" fill="#008000"/>
<rect x="899" y="395" width="3" height="3" fill="#008000"/>
<rect x="900" y="396" width="1" height="1" fill="#008080"/>
<rect x="904" y="395" width="1" height="32" fill="#008000"/>
<rect x="903" y="397" width="3" height="22" fill="#008000"/>
<rect x="904" y="398" width="1" height="20" fill="#008080"/>
<rect x="908" y="416" width="1" height="24" fill="#008000"/>
<rect x="907" y="418" width="3" height="18" fill="#008000"/>
<rect x="908" y="419" width="1" height="16" fill="#008080"/>
<rect x="912" y="426" width="1" height="14" fill="#FF0000"/>
<rect x="911" y="430" width="3" height="6" fill="#FF0000"/>
<rect x="916" y="414" width="1" height="20" fill="#FF0000"/>
<rect x="915" y="415" width="3" height="16" fill="#FF0000"/>
<rect x="920" y="408" width="1" height="41" fill="#008000"/>
<rect x="919" y="415" width="3" height="22" fill="#008000"/>
<rect x="920" y="416" width="1" height="20" fill="#008080"/>
<rect x="924" y="409" width="1" height="31" fill="#FF0000"/>
<rect x="923" y="410" width="3" height="27" fill="#FF0000"/>
<rect x="928" y="391" width="1" height="22" fill="#FF0000"/>
<rect x="927" y="408" width="3" height="4" fill="#FF0000"/>
<rect x="932" y="404" width="1" height="18" fill="#008000"/>
<rect x="931" y="409" width="3" height="5" fill="#008000"/>
<rect x="932" y="410" width="1" height="3" fill="#008080"/>
<rect x="936" y="402" width="1" height="16" fill="#FF0000"/>
<rect x="935" y="412" width="3" height="2" fill="#FF0000"/>
<rect x="940" y="409" width="1" height="24" fill="#008000"/>
<rect x="939" y="412" width="3" height="17" fill="#008000"/>
<rect x="940" y="413" width="1" height="15" fill="#008080"/>
<rect x="944" y="406" width="1" height="40" fill="#FF0000"/>
<rect x="943" y="417" width="3" height="13" fill="#FF0000"/>
<rect x="948" y="390" width="1" height="32" fill="#FF0000"/>
<rect x="947" y="401" width="3" height="17" fill="#FF0000"/>
<rect x="952" y="399" width="1" height="33" fill="#008000"/>
<rect x="951" y="401" width="3" height="30" fill="#008000"/>
<rect x="952" y="402" width="1" height="28" fill="#008080"/>
<rect x="956" y="421" width="1" height="11" fill="#FF0000"/>
<rect x="955" y="427" width="3" height="4" fill="#FF0000"/>
<rect x="960" y="425" width="1" height="28" fill="#008000"/>
<rect x="959" y="427" width="3" height="23" fill="#008000"/>
<rect x="960" y="428" width="1" height="21" fill="#008080"/>
<rect x="964" y="430" width="1" height="27" fill="#FF0000"/>
<rect x="963" y="434" width="3" height="17" fill="#FF0000"/>
<rect x="968" y="400" width="1" height="43" fill="#FF0000"/>
<rect x="967" y="416" width="3" height="19" fill="#FF0000"/>
<rect x="972" y="405" width="1" height="29" fill="#008000"/>
<rect x="971" y="416" width="3" height="8" fill="#008000"/>
<rect x="972" y="417" width="1" height="6" fill="#008080"/>
<rect x="976" y="402" width="1" height="30" fill="#FF0000"/>
<rect x="975" y="418" width="3" height="6" fill="#FF0000"/>
<rect x="980" y="409" width="1" height="32" fill="#008000"/>
<rect x="979" y="418" width="3" height="21" fill="#008000"/>
<rect x="980" y="419" width="1" height="19" fill="#008080"/>
<rect x="984" y="374" width="1" height="51" fill="#FF0000"/>
<rect x="983" y="386" width="3" height="37" fill="#FF0000"/>
<rect x="4" y="341" width="2" height="7" fill="#7FFF00"/>
<rect x="6" y="326" width="4" height="10" fill="#7FFF00"/>
<rect x="10" y="312" width="4" height="8" fill="#7FFF00"/>
<rect x="14" y="302" width="4" height="6" fill="#7FFF00"/>
<rect x="18" y="294" width="4" height="5" fill="#7FFF00"/>
<rect x="22" y="290" width="4" height="3" fill="#7FFF00"/>
<rect x="26" y="287" width="4" height="3" fill="#7FFF00"/>
<rect x="30" y="281" width="4" height="5" fill="#7FFF00"/>
<rect x="34" y="277" width="4" height="3" fill="#7FFF00"/>
<rect x="38" y="274" width="4" height="3" fill="#7FFF00"/>
<rect x="40" y="272" width="12" height="2" fill="#7FFF00"/>
<rect x="51" y="272" width="4" height="2" fill="#7FFF00"/>
<rect x="54" y="272" width="4" height="2" fill="#0000FF"/>
<rect x="58" y="276" width="4" height="3" fill="#0000FF"/>
<rect x="62" y="281" width="4" height="3" fill="#0000FF"/>
<rect x="66" y="286" width="4" height="4" fill="#0000FF"/>
<rect x="70" y="292" width="4" height="4" fill="#0000FF"/>
<rect x="74" y="297" width="4" height="4" fill="#0000FF"/>
<rect x="78" y="304" width="4" height="6" fill="#0000FF"/>
<rect x="82" y="314" width="4" height="6" fill="#0000FF"/>
<rect x="86" y="324" width="4" height="5" fill="#0000FF"/>
<rect x="90" y="334" width="4" height="8" fill="#0000FF"/>
<rect x="94" y="347" width="4" height="6" fill="#0000FF"/>
<rect x="98" y="357" width="4" height="5" fill="#0000FF"/>
<rect x="102" y="365" width="4" height="3" fill="#0000FF"/>
<rect x="106" y="368" width="4" height="1" fill="#7FFF00"/>
<rect x="110" y="366" width="4" height="2" fill="#7FFF00"/>
<rect x="114" y="364" width="4" height="2" fill="#7FFF00"/>
<rect x="118" y="361" width="4" height="2" fill="#7FFF00"/>
<rect x="122" y="357" width="4" height="3" fill="#7FFF00"/>
<rect x="126" y="351" width="4" height="5" fill="#7FFF00"/>
<rect x="134" y="345" width="4" height="4" fill="#7FFF00"/>
<rect x="138" y="339" width="4" height="4" fill="#7FFF00"/>
<rect x="142" y="332" width="4" height="4" fill="#7FFF00"/>
<rect x="146" y="326" width="4" height="4" fill="#7FFF00"/>
<rect x="150" y="320" width="4" height="4" fill="#7FFF00"/>
<rect x="154" y="314" width="4" height="5" fill="#7FFF00"/>
<rect x="158" y="304" width="4" height="6" fill="#7FFF00"/>
<rect x="162" y="296" width="4" height="6" fill="#7FFF00"/>
<rect x="166" y="286" width="4" height="6" fill="#7FFF00"/>
<rect x="170" y="278" width="4" height="6" fill="#7FFF00"/>
<rect x="174" y="272" width="4" height="4" fill="#7FFF00"/>
<rect x="178" y="266" width="4" height="3" fill="#7FFF00"/>
<rect x="182" y="261" width="4" height="4" fill="#7FFF00"/>
<rect x="186" y="258" width="4" height="2" fill="#7FFF00"/>
<rect x="190" y="255" width="4" height="3" fill="#7FFF00"/>
<rect x="194" y="253" width="4" height="3" fill="#7FFF00"/>
<rect x="198" y="250" width="4" height="2" fill="#7FFF00"/>
<rect x="190" y="256" width="4" height="1" fill="#7FFF00"/>
<rect x="194" y="253" width="4" height="2" fill="#7FFF00"/>
<rect x="198" y="250" width="4" height="2" fill="#7FFF00"/>
<rect x="202" y="249" width="4" height="2" fill="#7FFF00"/>
<rect x="210" y="249" width="4" height="2" fill="#0000FF"/>
<rect x="214" y="250" width="4" height="2" fill="#0000FF"/>
<rect x="218" y="252" width="4" height="1" fill="#0000FF"/>
<rect x="222" y="250" width="4" height="3" fill="#7FFF00"/>
<rect x="226" y="247" width="4" height="2" fill="#7FFF00"/>
<rect x="230" y="243" width="4" height="2" fill="#7FFF00"/>
<rect x="234" y="240" width="4" height="2" fill="#7FFF00"/>
<rect x="238" y="237" width="4" height="2" fill="#7FFF00"/>
<rect x="242" y="236" width="4" height="1" fill="#7FFF00"/>
<rect x="246" y="235" width="4" height="3" fill="#0000FF"/>
<rect x="250" y="237" width="4" height="2" fill="#0000FF"/>
<rect x="254" y="237" width="4" height="2" fill="#7FFF00"/>
<rect x="258" y="236" width="4" height="2" fill="#7FFF00"/>
<rect x="262" y="235" width="4" height="2" fill="#7FFF00"/>
<rect x="266" y="232" width="4" height="3" fill="#7FFF00"/>
<rect x="270" y="229" width="4" height="3" fill="#7FFF00"/>
<rect x="274" y="226" width="4" height="4" fill="#7FFF00"/>
<rect x="278" y="218" width="4" height="6" fill="#7FFF00"/>
<rect x="282" y="210" width="4" height="5" fill="#7FFF00"/>
<rect x="286" y="203" width="4" height="4" fill="#7FFF00"/>
<rect x="290" y="196" width="4" height="4" fill="#7FFF00"/>
<rect x="294" y="186" width="4" height="6" fill="#7FFF00"/>
<rect x="298" y="177" width="4" height="5" fill="#7FFF00"/>
<rect x="302" y="169" width="4" height="5" fill="#7FFF00"/>
<rect x="306" y="160" width="4" height="6" fill="#7FFF00"/>
<rect x="310" y="153" width="4" height="5" fill="#7FFF00"/>
<rect x="314" y="147" width="4" height="4" fill="#7FFF00"/>
<rect x="318" y="143" width="4" height="3" fill="#7FFF00"/>
<rect x="322" y="139" width="4" height="3" fill="#7FFF00"/>
<rect x="326" y="139" width="4" height="1" fill="#0000FF"/>
<rect x="330" y="140" width="4" height="2" fill="#0000FF"/>
<rect x="334" y="141" width="4" height="2" fill="#0000FF"/>
<rect x="338" y="144" width="4" height="2" fill="#0000FF"/>
<rect x="342" y="146" width="4" height="1" fill="#7FFF00"/>
<rect x="346" y="146" width="4" height="3" fill="#0000FF"/>
<rect x="350" y="149" width="4" height="3" fill="#0000FF"/>
<rect x="354" y="152" width="4" height="2" fill="#0000FF"/>
<rect x="358" y="154" width="4" height="2" fill="#0000FF"/>
<rect x="362" y="156" width="4" height="2" fill="#0000FF"/>
<rect x="366" y="157" width="4" height="2" fill="#0000FF"/>
<rect x="370" y="154" width="4" height="4" fill="#7FFF00"/>
<rect x="374" y="148" width="4" height="4" fill="#7FFF00"/>
<rect x="378" y="144" width="4" height="3" fill="#7FFF00"/>
<rect x="382" y="139" width="4" height="3" fill="#7FFF00"/>
<rect x="386" y="134" width="4" height="3" fill="#7FFF00"/>
<rect x="390" y="130" width="4" height="2" fill="#7FFF00"/>
<rect x="394" y="127" width="4" height="3" fill="#7FFF00"/>
<rect x="406" y="125" width="4" height="3" fill="#0000FF"/>
<rect x="410" y="128" width="4" height="4" fill="#0000FF"/>
<rect x="414" y="133" width="4" height="3" fill="#0000FF"/>
<rect x="418" y="138" width="4" height="5" fill="#0000FF"/>
<rect x="422" y="146" width="4" height="6" fill="#0000FF"/>
<rect x="426" y="153" width="4" height="3" fill="#0000FF"/>
<rect x="430" y="157" width="4" height="5" fill="#0000FF"/>
<rect x="434" y="165" width="4" height="5" fill="#0000FF"/>
<rect x="438" y="174" width="4" height="8" fill="#0000FF"/>
<rect x="442" y="187" width="4" height="9" fill="#0000FF"/>
<rect x="446" y="205" width="4" height="11" fill="#0000FF"/>
<rect x="450" y="226" width="4" height="12" fill="#0000FF"/>
<rect x="454" y="247" width="4" height="11" fill="#0000FF"/>
<rect x="458" y="266" width="4" height="8" fill="#0000FF"/>
<rect x="462" y="282" width="4" height="10" fill="#0000FF"/>
<rect x="466" y="301" width="4" height="9" fill="#0000FF"/>
<rect x="470" y="318" width="4" height="8" fill="#0000FF"/>
<rect x="474" y="333" width="4" height="7" fill="#0000FF"/>
<rect x="478" y="345" width="4" height="7" fill="#0000FF"/>
<rect x="482" y="355" width="4" height="5" fill="#0000FF"/>
<rect x="486" y="362" width="4" height="5" fill="#0000FF"/>
<rect x="490" y="369" width="4" height="5" fill="#0000FF"/>
<rect x="494" y="376" width="4" height="5" fill="#0000FF"/>
<rect x="498" y="384" width="4" height="4" fill="#0000FF"/>
<rect x="502" y="390" width="4" height="4" fill="#0000FF"/>
<rect x="506" y="395" width="4" height="2" fill="#0000FF"/>
<rect x="514" y="394" width="4" height="2" fill="#7FFF00"/>
<rect x="518" y="391" width="4" height="2" fill="#7FFF00"/>
<rect x="522" y="387" width="4" height="3" fill="#7FFF00"/>
<rect x="526" y="383" width="4" height="3" fill="#7FFF00"/>
<rect x="530" y="377" width="4" height="3" fill="#7FFF00"/>
<rect x="534" y="368" width="4" height="5" fill="#7FFF00"/>
<rect x="538" y="360" width="4" height="5" fill="#7FFF00"/>
<rect x="542" y="352" width="4" height="5" fill="#7FFF00"/>
<rect x="546" y="345" width="4" height="4" fill="#7FFF00"/>
<rect x="550" y="340" width="4" height="3" fill="#7FFF00"/>
<rect x="554" y="336" width="4" height="2" fill="#7FFF00"/>
<rect x="558" y="331" width="4" height="4" fill="#7FFF00"/>
<rect x="562" y="326" width="4" height="3" fill="#7FFF00"/>
<rect x="566" y="324" width="4" height="2" fill="#7FFF00"/>
<rect x="574" y="323" width="4" height="3" fill="#0000FF"/>
<rect x="578" y="327" width="4" height="2" fill="#0000FF"/>
<rect x="582" y="330" width="4" height="3" fill="#0000FF"/>
<rect x="586" y="332" width="4" height="2" fill="#0000FF"/>
<rect x="590" y="335" width="4" height="3" fill="#0000FF"/>
<rect x="594" y="339" width="4" height="4" fill="#0000FF"/>
<rect x="598" y="344" width="4" height="4" fill="#0000FF"/>
<rect x="602" y="349" width="4" height="4" fill="#0000FF"/>
<rect x="606" y="356" width="4" height="6" fill="#0000FF"/>
<rect x="610" y="367" width="4" height="7" fill="#0000FF"/>
<rect x="614" y="379" width="4" height="6" fill="#0000FF"/>
<rect x="618" y="388" width="4" height="6" fill="#0000FF"/>
<rect x="622" y="399" width="4" height="5" fill="#0000FF"/>
<rect x="626" y="407" width="4" height="5" fill="#0000FF"/>
<rect x="630" y="414" width="4" height="5" fill="#0000FF"/>
<rect x="634" y="421" width="4" height="3" fill="#0000FF"/>
<rect x="638" y="427" width="4" height="5" fill="#0000FF"/>
<rect x="642" y="434" width="4" height="5" fill="#0000FF"/>
<rect x="646" y="442" width="4" height="5" fill="#0000FF"/>
<rect x="650" y="449" width="4" height="4" fill="#0000FF"/>
<rect x="654" y="455" width="4" height="5" fill="#0000FF"/>
<rect x="658" y="462" width="4" height="3" fill="#0000FF"/>
<rect x="662" y="465" width="4" height="2" fill="#0000FF"/>
<rect x="666" y="466" width="4" height="2" fill="#0000FF"/>
<rect x="682" y="467" width="4" height="1" fill="#7FFF00"/>
<rect x="686" y="465" width="4" height="2" fill="#7FFF00"/>
<rect x="690" y="463" width="4" height="2" fill="#7FFF00"/>
<rect x="694" y="460" width="4" height="2" fill="#7FFF00"/>
<rect x="698" y="454" width="4" height="4" fill="#7FFF00"/>
<rect x="702" y="449" width="4" height="3" fill="#7FFF00"/>
<rect x="706" y="443" width="4" height="4" fill="#7FFF00"/>
<rect x="710" y="438" width="4" height="3" fill="#7FFF00"/>
<rect x="714" y="432" width="4" height="4" fill="#7FFF00"/>
<rect x="718" y="427" width="4" height="4" fill="#7FFF00"/>
<rect x="722" y="423" width="4" height="3" fill="#7FFF00"/>
<rect x="726" y="419" width="4" height="3" fill="#7FFF00"/>
<rect x="730" y="415" width="4" height="3" fill="#7FFF00"/>
<rect x="734" y="411" width="4" height="3" fill="#7FFF00"/>
<rect x="738" y="407" width="4" height="4" fill="#7FFF00"/>
<rect x="742" y="403" width="4" height="3" fill="#7FFF00"/>
<rect x="746" y="400" width="4" height="3" fill="#7FFF00"/>
<rect x="754" y="401" width="4" height="1" fill="#0000FF"/>
<rect x="758" y="403" width="4" height="3" fill="#0000FF"/>
<rect x="762" y="407" width="4" height="3" fill="#0000FF"/>
<rect x="766" y="412" width="4" height="4" fill="#0000FF"/>
<rect x="770" y="418" width="4" height="4" fill="#0000FF"/>
<rect x="774" y="423" width="4" height="3" fill="#0000FF"/>
<rect x="778" y="426" width="4" height="3" fill="#0000FF"/>
<rect x="782" y="427" width="4" height="3" fill="#0000FF"/>
<rect x="786" y="430" width="4" height="3" fill="#0000FF"/>
<rect x="790" y="432" width="4" height="4" fill="#0000FF"/>
<rect x="798" y="432" width="4" height="3" fill="#7FFF00"/>
<rect x="802" y="426" width="4" height="4" fill="#7FFF00"/>
<rect x="806" y="417" width="4" height="5" fill="#7FFF00"/>
<rect x="810" y="411" width="4" height="5" fill="#7FFF00"/>
<rect x="814" y="405" width="4" height="4" fill="#7FFF00"/>
<rect x="818" y="399" width="4" height="5" fill="#7FFF00"/>
<rect x="822" y="392" width="4" height="5" fill="#7FFF00"/>
<rect x="826" y="385" width="4" height="5" fill="#7FFF00"/>
<rect x="830" y="379" width="4" height="3" fill="#7FFF00"/>
<rect x="834" y="373" width="4" height="4" fill="#7FFF00"/>
<rect x="838" y="367" width="4" height="5" fill="#7FFF00"/>
<rect x="842" y="362" width="4" height="4" fill="#7FFF00"/>
<rect x="846" y="356" width="4" height="4" fill="#7FFF00"/>
<rect x="850" y="350" width="4" height="4" fill="#7FFF00"/>
<rect x="854" y="344" width="4" height="4" fill="#7FFF00"/>
<rect x="858" y="337" width="4" height="4" fill="#7FFF00"/>
<rect x="862" y="331" width="4" height="4" fill="#7FFF00"/>
<rect x="866" y="326" width="4" height="3" fill="#7FFF00"/>
<rect x="870" y="322" width="4" height="3" fill="#7FFF00"/>
<rect x="874" y="319" width="4" height="2" fill="#7FFF00"/>
<rect x="878" y="318" width="4" height="1" fill="#7FFF00"/>
<rect x="886" y="318" width="4" height="3" fill="#0000FF"/>
<rect x="890" y="322" width="4" height="4" fill="#0000FF"/>
<rect x="894" y="328" width="4" height="5" fill="#0000FF"/>
<rect x="898" y="336" width="4" height="6" fill="#0000FF"/>
<rect x="902" y="346" width="4" height="6" fill="#0000FF"/>
<rect x="906" y="358" width="4" height="8" fill="#0000FF"/>
<rect x="910" y="371" width="4" height="7" fill="#0000FF"/>
<rect x="914" y="383" width="4" height="5" fill="#0000FF"/>
<rect x="918" y="393" width="4" height="6" fill="#0000FF"/>
<rect x="922" y="403" width="4" height="5" fill="#0000FF"/>
<rect x="926" y="410" width="4" height="4" fill="#0000FF"/>
<rect x="930" y="416" width="4" height="4" fill="#0000FF"/>
<rect x="934" y="421" width="4" height="3" fill="#0000FF"/>
<rect x="938" y="426" width="4" height="3" fill="#0000FF"/>
<rect x="942" y="431" width="4" height="2" fill="#0000FF"/>
<rect x="950" y="433" width="4" height="2" fill="#0000FF"/>
<rect x="954" y="435" width="4" height="2" fill="#0000FF"/>
<rect x="958" y="437" width="4" height="3" fill="#0000FF"/>
<rect x="965" y="439" width="4" height="1" fill="#7FFF00"/>
<rect x="970" y="437" width="4" height="2" fill="#7FFF00"/>
<rect x="974" y="434" width="4" height="2" fill="#7FFF00"/>
<rect x="982" y="427" width="4" height="4" fill="#7FFF00"/>
<text x="339.5" y="275" font-size="24" fill="#FF0000" text-anchor="start">A</text>
<text x="342.7" y="403.7" font-size="24" fill="#FF0000" text-anchor="start">C</text>
<text x="356" y="539" font-size="24" fill="#FF0000" text-anchor="start">B</text>
<text x="1028.9" y="297" font-size="24" fill="#FF0000" text-anchor="start" textLength="72.4" lengthAdjust="spacingAndGlyphs">1.2895</text>
<text x="1032.4" y="385" font-size="24" fill="#FF0000" text-anchor="start" textLength="72.4" lengthAdjust="spacingAndGlyphs">1.2780</text>
<text x="1040.7" y="463" font-size="24" fill="#FF0000" text-anchor="start" textLength="72.4" lengthAdjust="spacingAndGlyphs">1.2675</text>
<line x1="4" y1="242.46" x2="1238" y2="330.56" stroke="#000" stroke-width="1"/>
<line x1="12.5" y1="407.51" x2="1238" y2="369.47" stroke="#000" stroke-width="1"/>
<line x1="184.5" y1="549.0" x2="1238" y2="418.39" stroke="#000" stroke-width="1"/>
<rect x="10.5" y="405.5" width="4" height="4" fill="#FFF" stroke="#000" stroke-width="1"/>
<rect x="540.5" y="389.5" width="4" height="4" fill="#FFF" stroke="#000" stroke-width="1"/>
<rect x="1070.5" y="372.5" width="4" height="4" fill="#FFF" stroke="#000" stroke-width="1"/>
<rect x="505.5" y="507.5" width="4" height="4" fill="#FFF" stroke="#000" stroke-width="1"/>
<rect x="1030.5" y="441.5" width="4" height="4" fill="#FFF" stroke="#000" stroke-width="1"/>
<rect x="4" y="561" width="1" height="32" fill="#4169E1"/>
<rect x="8" y="558" width="1" height="35" fill="#4169E1"/>
<rect x="12" y="557" width="1" height="36" fill="#4169E1"/>
<rect x="16" y="557" width="1" height="36" fill="#4169E1"/>
<rect x="20" y="558" width="1" height="35" fill="#4169E1"/>
<rect x="24" y="558" width="1" height="35" fill="#4169E1"/>
<rect x="28" y="559" width="1" height="34" fill="#4169E1"/>
<rect x="32" y="560" width="1" height="33" fill="#4169E1"/>
<rect x="36" y="560" width="1" height="33" fill="#4169E1"/>
<rect x="40" y="562" width="1" height="31" fill="#4169E1"/>
<rect x="44" y="565" width="1" height="28" fill="#4169E1"/>
<rect x="48" y="566" width="1" height="27" fill="#4169E1"/>
<rect x="52" y="566" width="1" height="27" fill="#4169E1"/>
<rect x="56" y="568" width="1" height="25" fill="#4169E1"/>
<rect x="60" y="571" width="1" height="22" fill="#4169E1"/>
<rect x="64" y="573" width="1" height="20" fill="#4169E1"/>
<rect x="68" y="576" width="1" height="17" fill="#4169E1"/>
<rect x="72" y="578" width="1" height="15" fill="#4169E1"/>
<rect x="76" y="580" width="1" height="13" fill="#4169E1"/>
<rect x="80" y="584" width="1" height="9" fill="#4169E1"/>
<rect x="84" y="588" width="1" height="5" fill="#4169E1"/>
<rect x="88" y="591" width="1" height="2" fill="#4169E1"/>
<rect x="92" y="592" width="1" height="3" fill="#4169E1"/>
<rect x="96" y="592" width="1" height="6" fill="#4169E1"/>
<rect x="100" y="592" width="1" height="8" fill="#4169E1"/>
<rect x="104" y="592" width="1" height="7" fill="#4169E1"/>
<rect x="108" y="592" width="1" height="5" fill="#4169E1"/>
<rect x="112" y="592" width="1" height="3" fill="#4169E1"/>
<rect x="116" y="592" width="1" height="1" fill="#4169E1"/>
<rect x="120" y="592" width="1" height="1" fill="#4169E1"/>
<rect x="124" y="591" width="1" height="2" fill="#4169E1"/>
<rect x="128" y="589" width="1" height="4" fill="#4169E1"/>
<rect x="132" y="590" width="1" height="3" fill="#4169E1"/>
<rect x="136" y="590" width="1" height="3" fill="#4169E1"/>
<rect x="140" y="589" width="1" height="4" fill="#4169E1"/>
<rect x="144" y="588" width="1" height="5" fill="#4169E1"/>
<rect x="148" y="587" width="1" height="6" fill="#4169E1"/>
<rect x="152" y="587" width="1" height="6" fill="#4169E1"/>
<rect x="156" y="586" width="1" height="7" fill="#4169E1"/>
<rect x="160" y="584" width="1" height="9" fill="#4169E1"/>
<rect x="164" y="582" width="1" height="11" fill="#4169E1"/>
<rect x="168" y="580" width="1" height="13" fill="#4169E1"/>
<rect x="172" y="578" width="1" height="15" fill="#4169E1"/>
<rect x="176" y="578" width="1" height="15" fill="#4169E1"/>
<rect x="180" y="578" width="1" height="15" fill="#4169E1"/>
<rect x="184" y="578" width="1" height="15" fill="#4169E1"/>
<rect x="188" y="578" width="1" height="15" fill="#4169E1"/>
<rect x="192" y="578" width="1" height="15" fill="#4169E1"/>
<rect x="196" y="578" width="1" height="15" fill="#4169E1"/>
<rect x="200" y="578" width="1" height="15" fill="#4169E1"/>
<rect x="204" y="579" width="1" height="14" fill="#4169E1"/>
<rect x="208" y="580" width="1" height="13" fill="#4169E1"/>
<rect x="212" y="581" width="1" height="12" fill="#4169E1"/>
<rect x="216" y="582" width="1" height="11" fill="#4169E1"/>
<rect x="220" y="582" width="1" height="11" fill="#4169E1"/>
<rect x="224" y="580" width="1" height="13" fill="#4169E1"/>
<rect x="228" y="580" width="1" height="13" fill="#4169E1"/>
<rect x="232" y="577" width="1" height="16" fill="#4169E1"/>
<rect x="236" y="576" width="1" height="17" fill="#4169E1"/>
<rect x="240" y="576" width="1" height="17" fill="#4169E1"/>
<rect x="244" y="579" width="1" height="14" fill="#4169E1"/>
<rect x="248" y="580" width="1" height="13" fill="#4169E1"/>
<rect x="252" y="581" width="1" height="12" fill="#4169E1"/>
<rect x="256" y="581" width="1" height="12" fill="#4169E1"/>
<rect x="260" y="582" width="1" height="11" fill="#4169E1"/>
<rect x="264" y="582" width="1" height="11" fill="#4169E1"/>
<rect x="268" y="581" width="1" height="12" fill="#4169E1"/>
<rect x="272" y="580" width="1" height="13" fill="#4169E1"/>
<rect x="276" y="579" width="1" height="14" fill="#4169E1"/>
<rect x="280" y="577" width="1" height="16" fill="#4169E1"/>
<rect x="284" y="575" width="1" height="18" fill="#4169E1"/>
<rect x="288" y="574" width="1" height="19" fill="#4169E1"/>
<rect x="292" y="574" width="1" height="19" fill="#4169E1"/>
<rect x="296" y="571" width="1" height="22" fill="#4169E1"/>
<rect x="300" y="570" width="1" height="23" fill="#4169E1"/>
<rect x="304" y="569" width="1" height="24" fill="#4169E1"/>
<rect x="308" y="569" width="1" height="24" fill="#4169E1"/>
<rect x="312" y="568" width="1" height="25" fill="#4169E1"/>
<rect x="316" y="568" width="1" height="25" fill="#4169E1"/>
<rect x="320" y="570" width="1" height="23" fill="#4169E1"/>
<rect x="324" y="571" width="1" height="22" fill="#4169E1"/>
<rect x="328" y="574" width="1" height="19" fill="#4169E1"/>
<rect x="332" y="577" width="1" height="16" fill="#4169E1"/>
<rect x="336" y="579" width="1" height="14" fill="#4169E1"/>
<rect x="340" y="580" width="1" height="13" fill="#4169E1"/>
<rect x="344" y="580" width="1" height="13" fill="#4169E1"/>
<rect x="348" y="581" width="1" height="12" fill="#4169E1"/>
<rect x="352" y="582" width="1" height="11" fill="#4169E1"/>
<rect x="356" y="582" width="1" height="11" fill="#4169E1"/>
<rect x="360" y="583" width="1" height="10" fill="#4169E1"/>
<rect x="364" y="584" width="1" height="9" fill="#4169E1"/>
<rect x="368" y="584" width="1" height="9" fill="#4169E1"/>
<rect x="372" y="581" width="1" height="12" fill="#4169E1"/>
<rect x="376" y="578" width="1" height="15" fill="#4169E1"/>
<rect x="380" y="577" width="1" height="16" fill="#4169E1"/>
<rect x="384" y="577" width="1" height="16" fill="#4169E1"/>
<rect x="388" y="576" width="1" height="17" fill="#4169E1"/>
<rect x="392" y="576" width="1" height="17" fill="#4169E1"/>
<rect x="396" y="577" width="1" height="16" fill="#4169E1"/>
<rect x="400" y="578" width="1" height="15" fill="#4169E1"/>
<rect x="404" y="581" width="1" height="12" fill="#4169E1"/>
<rect x="408" y="584" width="1" height="9" fill="#4169E1"/>
<rect x="412" y="588" width="1" height="5" fill="#4169E1"/>
<rect x="416" y="590" width="1" height="3" fill="#4169E1"/>
<rect x="420" y="592" width="1" height="1" fill="#4169E1"/>
<rect x="424" y="592" width="1" height="5" fill="#4169E1"/>
<rect x="428" y="592" width="1" height="5" fill="#4169E1"/>
<rect x="432" y="592" width="1" height="7" fill="#4169E1"/>
<rect x="436" y="592" width="1" height="9" fill="#4169E1"/>
<rect x="440" y="592" width="1" height="13" fill="#4169E1"/>
<rect x="444" y="592" width="1" height="18" fill="#4169E1"/>
<rect x="448" y="592" width="1" height="25" fill="#4169E1"/>
<rect x="452" y="592" width="1" height="31" fill="#4169E1"/>
<rect x="456" y="592" width="1" height="35" fill="#4169E1"/>
<rect x="460" y="592" width="1" height="35" fill="#4169E1"/>
<rect x="464" y="592" width="1" height="39" fill="#4169E1"/>
<rect x="468" y="592" width="1" height="41" fill="#4169E1"/>
<rect x="472" y="592" width="1" height="42" fill="#4169E1"/>
<rect x="476" y="592" width="1" height="43" fill="#4169E1"/>
<rect x="480" y="592" width="1" height="42" fill="#4169E1"/>
<rect x="484" y="592" width="1" height="40" fill="#4169E1"/>
<rect x="488" y="592" width="1" height="40" fill="#4169E1"/>
<rect x="492" y="592" width="1" height="40" fill="#4169E1"/>
<rect x="496" y="592" width="1" height="40" fill="#4169E1"/>
<rect x="500" y="592" width="1" height="40" fill="#4169E1"/>
<rect x="504" y="592" width="1" height="39" fill="#4169E1"/>
<rect x="508" y="592" width="1" height="39" fill="#4169E1"/>
<rect x="512" y="592" width="1" height="37" fill="#4169E1"/>
<rect x="516" y="592" width="1" height="34" fill="#4169E1"/>
<rect x="520" y="592" width="1" height="32" fill="#4169E1"/>
<rect x="524" y="592" width="1" height="29" fill="#4169E1"/>
<rect x="528" y="592" width="1" height="26" fill="#4169E1"/>
<rect x="532" y="592" width="1" height="24" fill="#4169E1"/>
<rect x="536" y="592" width="1" height="21" fill="#4169E1"/>
<rect x="540" y="592" width="1" height="18" fill="#4169E1"/>
<rect x="544" y="592" width="1" height="15" fill="#4169E1"/>
<rect x="548" y="592" width="1" height="13" fill="#4169E1"/>
<rect x="552" y="592" width="1" height="12" fill="#4169E1"/>
<rect x="556" y="592" width="1" height="11" fill="#4169E1"/>
<rect x="560" y="592" width="1" height="9" fill="#4169E1"/>
<rect x="564" y="592" width="1" height="8" fill="#4169E1"/>
<rect x="568" y="592" width="1" height="7" fill="#4169E1"/>
<rect x="572" y="592" width="1" height="7" fill="#4169E1"/>
<rect x="576" y="592" width="1" height="7" fill="#4169E1"/>
<rect x="580" y="592" width="1" height="8" fill="#4169E1"/>
<rect x="584" y="592" width="1" height="8" fill="#4169E1"/>
<rect x="588" y="592" width="1" height="8" fill="#4169E1"/>
<rect x="592" y="592" width="1" height="8" fill="#4169E1"/>
<rect x="596" y="592" width="1" height="8" fill="#4169E1"/>
<rect x="600" y="592" width="1" height="9" fill="#4169E1"/>
<rect x="604" y="592" width="1" height="11" fill="#4169E1"/>
<rect x="608" y="592" width="1" height="13" fill="#4169E1"/>
<rect x="612" y="592" width="1" height="17" fill="#4169E1"/>
<rect x="616" y="592" width="1" height="18" fill="#4169E1"/>
<rect x="620" y="592" width="1" height="19" fill="#4169E1"/>
<rect x="624" y="592" width="1" height="20" fill="#4169E1"/>
<rect x="628" y="592" width="1" height="20" fill="#4169E1"/>
<rect x="632" y="592" width="1" height="21" fill="#4169E1"/>
<rect x="636" y="592" width="1" height="21" fill="#4169E1"/>
<rect x="640" y="592" width="1" height="21" fill="#4169E1"/>
<rect x="644" y="592" width="1" height="23" fill="#4169E1"/>
<rect x="648" y="592" width="1" height="24" fill="#4169E1"/>
<rect x="652" y="592" width="1" height="24" fill="#4169E1"/>
<rect x="656" y="592" width="1" height="26" fill="#4169E1"/>
<rect x="660" y="592" width="1" height="25" fill="#4169E1"/>
<rect x="664" y="592" width="1" height="23" fill="#4169E1"/>
<rect x="668" y="592" width="1" height="23" fill="#4169E1"/>
<rect x="672" y="592" width="1" height="22" fill="#4169E1"/>
<rect x="676" y="592" width="1" height="22" fill="#4169E1"/>
<rect x="680" y="592" width="1" height="21" fill="#4169E1"/>
<rect x="684" y="592" width="1" height="19" fill="#4169E1"/>
<rect x="688" y="592" width="1" height="18" fill="#4169E1"/>
<rect x="692" y="592" width="1" height="16" fill="#4169E1"/>
<rect x="696" y="592" width="1" height="15" fill="#4169E1"/>
<rect x="700" y="592" width="1" height="11" fill="#4169E1"/>
<rect x="704" y="592" width="1" height="9" fill="#4169E1"/>
<rect x="708" y="592" width="1" height="8" fill="#4169E1"/>
<rect x="712" y="592" width="1" height="6" fill="#4169E1"/>
<rect x="716" y="592" width="1" height="5" fill="#4169E1"/>
<rect x="720" y="592" width="1" height="3" fill="#4169E1"/>
<rect x="724" y="592" width="1" height="3" fill="#4169E1"/>
<rect x="728" y="592" width="1" height="2" fill="#4169E1"/>
<rect x="732" y="592" width="1" height="1" fill="#4169E1"/>
<rect x="736" y="592" width="1" height="1" fill="#4169E1"/>
<rect x="740" y="591" width="1" height="2" fill="#4169E1"/>
<rect x="744" y="590" width="1" height="3" fill="#4169E1"/>
<rect x="748" y="590" width="1" height="3" fill="#4169E1"/>
<rect x="752" y="591" width="1" height="2" fill="#4169E1"/>
<rect x="756" y="591" width="1" height="2" fill="#4169E1"/>
<rect x="760" y="592" width="1" height="2" fill="#4169E1"/>
<rect x="764" y="592" width="1" height="3" fill="#4169E1"/>
<rect x="768" y="592" width="1" height="5" fill="#4169E1"/>
<rect x="772" y="592" width="1" height="6" fill="#4169E1"/>
<rect x="776" y="592" width="1" height="6" fill="#4169E1"/>
<rect x="780" y="592" width="1" height="2" fill="#4169E1"/>
<rect x="784" y="592" width="1" height="1" fill="#4169E1"/>
<rect x="788" y="592" width="1" height="1" fill="#4169E1"/>
<rect x="792" y="592" width="1" height="1" fill="#4169E1"/>
<rect x="796" y="592" width="1" height="1" fill="#4169E1"/>
<rect x="800" y="592" width="1" height="1" fill="#4169E1"/>
<rect x="804" y="588" width="1" height="5" fill="#4169E1"/>
<rect x="808" y="585" width="1" height="8" fill="#4169E1"/>
<rect x="812" y="584" width="1" height="9" fill="#4169E1"/>
<rect x="816" y="583" width="1" height="10" fill="#4169E1"/>
<rect x="820" y="583" width="1" height="10" fill="#4169E1"/>
<rect x="824" y="581" width="1" height="12" fill="#4169E1"/>
<rect x="828" y="581" width="1" height="12" fill="#4169E1"/>
<rect x="832" y="580" width="1" height="13" fill="#4169E1"/>
<rect x="836" y="580" width="1" height="13" fill="#4169E1"/>
<rect x="840" y="580" width="1" height="13" fill="#4169E1"/>
<rect x="844" y="579" width="1" height="14" fill="#4169E1"/>
<rect x="848" y="579" width="1" height="14" fill="#4169E1"/>
<rect x="852" y="578" width="1" height="15" fill="#4169E1"/>
<rect x="856" y="577" width="1" height="16" fill="#4169E1"/>
<rect x="860" y="576" width="1" height="17" fill="#4169E1"/>
<rect x="864" y="576" width="1" height="17" fill="#4169E1"/>
<rect x="868" y="575" width="1" height="18" fill="#4169E1"/>
<rect x="872" y="575" width="1" height="18" fill="#4169E1"/>
<rect x="876" y="575" width="1" height="18" fill="#4169E1"/>
<rect x="880" y="577" width="1" height="16" fill="#4169E1"/>
<rect x="884" y="578" width="1" height="15" fill="#4169E1"/>
<rect x="888" y="581" width="1" height="12" fill="#4169E1"/>
<rect x="892" y="583" width="1" height="10" fill="#4169E1"/>
<rect x="896" y="587" width="1" height="6" fill="#4169E1"/>
<rect x="900" y="591" width="1" height="2" fill="#4169E1"/>
<rect x="904" y="592" width="1" height="1" fill="#4169E1"/>
<rect x="908" y="592" width="1" height="7" fill="#4169E1"/>
<rect x="912" y="592" width="1" height="9" fill="#4169E1"/>
<rect x="916" y="592" width="1" height="11" fill="#4169E1"/>
<rect x="920" y="592" width="1" height="13" fill="#4169E1"/>
<rect x="924" y="592" width="1" height="13" fill="#4169E1"/>
<rect x="928" y="592" width="1" height="12" fill="#4169E1"/>
<rect x="932" y="592" width="1" height="12" fill="#4169E1"/>
<rect x="936" y="592" width="1" height="11" fill="#4169E1"/>
<rect x="940" y="592" width="1" height="11" fill="#4169E1"/>
<rect x="944" y="592" width="1" height="11" fill="#4169E1"/>
<rect x="948" y="592" width="1" height="11" fill="#4169E1"/>
<rect x="952" y="592" width="1" height="11" fill="#4169E1"/>
<rect x="956" y="592" width="1" height="11" fill="#4169E1"/>
<rect x="960" y="592" width="1" height="11" fill="#4169E1"/>
<rect x="964" y="592" width="1" height="11" fill="#4169E1"/>
<rect x="968" y="592" width="1" height="11" fill="#4169E1"/>
<rect x="972" y="592" width="1" height="11" fill="#4169E1"/>
<rect x="976" y="592" width="1" height="11" fill="#4169E1"/>
<rect x="980" y="592" width="1" height="11" fill="#4169E1"/>
<rect x="984" y="592" width="1" height="7" fill="#4169E1"/>
<rect x="4" y="569" width="1" height="3" fill="#FF0000"/>
<rect x="5" y="568" width="2" height="3" fill="#FF0000"/>
<rect x="7" y="567" width="2" height="3" fill="#FF0000"/>
<rect x="9" y="566" width="1" height="3" fill="#FF0000"/>
<rect x="10" y="565" width="2" height="3" fill="#FF0000"/>
<rect x="12" y="564" width="2" height="3" fill="#FF0000"/>
<rect x="14" y="563" width="2" height="3" fill="#FF0000"/>
<rect x="16" y="562" width="2" height="3" fill="#FF0000"/>
<rect x="18" y="561" width="4" height="3" fill="#FF0000"/>
<rect x="22" y="560" width="4" height="3" fill="#FF0000"/>
<rect x="26" y="559" width="9" height="3" fill="#FF0000"/>
<rect x="35" y="558" width="3" height="3" fill="#FF0000"/>
<rect x="38" y="559" width="6" height="3" fill="#FF0000"/>
<rect x="44" y="560" width="6" height="3" fill="#FF0000"/>
<rect x="50" y="561" width="3" height="3" fill="#FF0000"/>
<rect x="53" y="562" width="3" height="3" fill="#FF0000"/>
<rect x="56" y="563" width="3" height="3" fill="#FF0000"/>
<rect x="59" y="564" width="3" height="3" fill="#FF0000"/>
<rect x="62" y="565" width="3" height="3" fill="#FF0000"/>
<rect x="65" y="566" width="3" height="3" fill="#FF0000"/>
<rect x="68" y="567" width="3" height="3" fill="#FF0000"/>
<rect x="71" y="568" width="3" height="3" fill="#FF0000"/>
<rect x="74" y="569" width="2" height="3" fill="#FF0000"/>
<rect x="76" y="570" width="2" height="3" fill="#FF0000"/>
<rect x="78" y="571" width="2" height="3" fill="#FF0000"/>
<rect x="80" y="572" width="2" height="3" fill="#FF0000"/>
<rect x="82" y="573" width="2" height="3" fill="#FF0000"/>
<rect x="84" y="574" width="1" height="3" fill="#FF0000"/>
<rect x="85" y="575" width="2" height="3" fill="#FF0000"/>
<rect x="87" y="576" width="1" height="3" fill="#FF0000"/>
<rect x="88" y="577" width="2" height="3" fill="#FF0000"/>
<rect x="90" y="578" width="1" height="3" fill="#FF0000"/>
<rect x="91" y="579" width="2" height="3" fill="#FF0000"/>
<rect x="93" y="580" width="1" height="3" fill="#FF0000"/>
<rect x="94" y="581" width="1" height="3" fill="#FF0000"/>
<rect x="95" y="582" width="2" height="3" fill="#FF0000"/>
<rect x="97" y="583" width="1" height="3" fill="#FF0000"/>
<rect x="98" y="584" width="2" height="3" fill="#FF0000"/>
<rect x="100" y="585" width="1" height="3" fill="#FF0000"/>
<rect x="101" y="586" width="1" height="3" fill="#FF0000"/>
<rect x="102" y="587" width="2" height="3" fill="#FF0000"/>
<rect x="104" y="588" width="1" height="3" fill="#FF0000"/>
<rect x="105" y="589" width="2" height="3" fill="#FF0000"/>
<rect x="107" y="590" width="2" height="3" fill="#FF0000"/>
<rect x="109" y="591" width="2" height="3" fill="#FF0000"/>
<rect x="111" y="592" width="2" height="3" fill="#FF0000"/>
<rect x="113" y="593" width="20" height="3" fill="#FF0000"/>
<rect x="133" y="592" width="3" height="3" fill="#FF0000"/>
<rect x="136" y="591" width="3" height="3" fill="#FF0000"/>
<rect x="139" y="590" width="4" height="3" fill="#FF0000"/>
<rect x="143" y="589" width="7" height="3" fill="#FF0000"/>
<rect x="150" y="588" width="4" height="3" fill="#FF0000"/>
<rect x="154" y="587" width="4" height="3" fill="#FF0000"/>
<rect x="158" y="586" width="4" height="3" fill="#FF0000"/>
<rect x="162" y="585" width="3" height="3" fill="#FF0000"/>
<rect x="165" y="584" width="3" height="3" fill="#FF0000"/>
<rect x="168" y="583" width="3" height="3" fill="#FF0000"/>
<rect x="171" y="582" width="3" height="3" fill="#FF0000"/>
<rect x="174" y="581" width="3" height="3" fill="#FF0000"/>
<rect x="177" y="580" width="5" height="3" fill="#FF0000"/>
<rect x="182" y="579" width="4" height="3" fill="#FF0000"/>
<rect x="186" y="578" width="9" height="3" fill="#FF0000"/>
<rect x="195" y="577" width="22" height="3" fill="#FF0000"/>
<rect x="217" y="578" width="19" height="3" fill="#FF0000"/>
<rect x="236" y="577" width="14" height="3" fill="#FF0000"/>
<rect x="250" y="576" width="8" height="3" fill="#FF0000"/>
<rect x="258" y="577" width="9" height="3" fill="#FF0000"/>
<rect x="267" y="578" width="8" height="3" fill="#FF0000"/>
<rect x="275" y="579" width="10" height="3" fill="#FF0000"/>
<rect x="285" y="578" width="1" height="3" fill="#FF0000"/>
<rect x="286" y="577" width="7" height="3" fill="#FF0000"/>
<rect x="293" y="576" width="3" height="3" fill="#FF0000"/>
<rect x="296" y="575" width="4" height="3" fill="#FF0000"/>
<rect x="300" y="574" width="2" height="3" fill="#FF0000"/>
<rect x="302" y="573" width="5" height="3" fill="#FF0000"/>
<rect x="307" y="572" width="2" height="3" fill="#FF0000"/>
<rect x="309" y="571" width="6" height="3" fill="#FF0000"/>
<rect x="315" y="570" width="3" height="3" fill="#FF0000"/>
<rect x="318" y="569" width="4" height="3" fill="#FF0000"/>
<rect x="322" y="568" width="8" height="3" fill="#FF0000"/>
<rect x="330" y="569" width="4" height="3" fill="#FF0000"/>
<rect x="334" y="570" width="4" height="3" fill="#FF0000"/>
<rect x="338" y="571" width="7" height="3" fill="#FF0000"/>
<rect x="345" y="572" width="3" height="3" fill="#FF0000"/>
<rect x="348" y="573" width="3" height="3" fill="#FF0000"/>
<rect x="351" y="574" width="2" height="3" fill="#FF0000"/>
<rect x="353" y="575" width="3" height="3" fill="#FF0000"/>
<rect x="356" y="576" width="2" height="3" fill="#FF0000"/>
<rect x="358" y="577" width="4" height="3" fill="#FF0000"/>
<rect x="362" y="578" width="2" height="3" fill="#FF0000"/>
<rect x="364" y="579" width="18" height="3" fill="#FF0000"/>
<rect x="382" y="578" width="12" height="3" fill="#FF0000"/>
<rect x="394" y="577" width="19" height="3" fill="#FF0000"/>
<rect x="413" y="578" width="2" height="3" fill="#FF0000"/>
<rect x="415" y="579" width="3" height="3" fill="#FF0000"/>
<rect x="418" y="580" width="2" height="3" fill="#FF0000"/>
<rect x="420" y="581" width="3" height="3" fill="#FF0000"/>
<rect x="423" y="582" width="2" height="3" fill="#FF0000"/>
<rect x="425" y="583" width="2" height="3" fill="#FF0000"/>
<rect x="427" y="584" width="2" height="3" fill="#FF0000"/>
<rect x="429" y="585" width="2" height="3" fill="#FF0000"/>
<rect x="431" y="586" width="2" height="3" fill="#FF0000"/>
<rect x="433" y="587" width="1" height="3" fill="#FF0000"/>
<rect x="434" y="588" width="2" height="3" fill="#FF0000"/>
<rect x="436" y="589" width="2" height="3" fill="#FF0000"/>
<rect x="438" y="590" width="1" height="3" fill="#FF0000"/>
<rect x="439" y="591" width="2" height="3" fill="#FF0000"/>
<rect x="441" y="592" width="1" height="3" fill="#FF0000"/>
<rect x="442" y="593" width="1" height="3" fill="#FF0000"/>
<rect x="443" y="594" width="2" height="3" fill="#FF0000"/>
<rect x="445" y="595" width="1" height="3" fill="#FF0000"/>
<rect x="446" y="596" width="1" height="3" fill="#FF0000"/>
<rect x="447" y="597" width="1" height="3" fill="#FF0000"/>
<rect x="448" y="598" width="1" height="3" fill="#FF0000"/>
<rect x="449" y="599" width="1" height="3" fill="#FF0000"/>
<rect x="450" y="600" width="1" height="3" fill="#FF0000"/>
<rect x="451" y="601" width="1" height="3" fill="#FF0000"/>
<rect x="452" y="602" width="1" height="3" fill="#FF0000"/>
<rect x="453" y="603" width="1" height="3" fill="#FF0000"/>
<rect x="454" y="604" width="1" height="3" fill="#FF0000"/>
<rect x="455" y="605" width="1" height="3" fill="#FF0000"/>
<rect x="456" y="606" width="2" height="3" fill="#FF0000"/>
<rect x="458" y="607" width="1" height="3" fill="#FF0000"/>
<rect x="459" y="608" width="1" height="3" fill="#FF0000"/>
<rect x="460" y="609" width="1" height="3" fill="#FF0000"/>
<rect x="461" y="610" width="1" height="3" fill="#FF0000"/>
<rect x="462" y="611" width="2" height="3" fill="#FF0000"/>
<rect x="464" y="612" width="1" height="3" fill="#FF0000"/>
<rect x="465" y="613" width="1" height="3" fill="#FF0000"/>
<rect x="466" y="614" width="1" height="3" fill="#FF0000"/>
<rect x="467" y="615" width="1" height="3" fill="#FF0000"/>
<rect x="468" y="616" width="1" height="3" fill="#FF0000"/>
<rect x="469" y="617" width="1" height="3" fill="#FF0000"/>
<rect x="470" y="618" width="1" height="3" fill="#FF0000"/>
<rect x="471" y="619" width="1" height="3" fill="#FF0000"/>
<rect x="472" y="620" width="1" height="3" fill="#FF0000"/>
<rect x="473" y="621" width="1" height="3" fill="#FF0000"/>
<rect x="474" y="622" width="1" height="3" fill="#FF0000"/>
<rect x="475" y="623" width="2" height="3" fill="#FF0000"/>
<rect x="477" y="624" width="1" height="3" fill="#FF0000"/>
<rect x="478" y="625" width="1" height="3" fill="#FF0000"/>
<rect x="479" y="626" width="1" height="3" fill="#FF0000"/>
<rect x="480" y="627" width="2" height="3" fill="#FF0000"/>
<rect x="482" y="628" width="2" height="3" fill="#FF0000"/>
<rect x="484" y="629" width="2" height="3" fill="#FF0000"/>
<rect x="486" y="630" width="30" height="3" fill="#FF0000"/>
<rect x="516" y="629" width="5" height="3" fill="#FF0000"/>
<rect x="521" y="628" width="4" height="3" fill="#FF0000"/>
<rect x="525" y="627" width="2" height="3" fill="#FF0000"/>
<rect x="527" y="626" width="3" height="3" fill="#FF0000"/>
<rect x="530" y="625" width="2" height="3" fill="#FF0000"/>
<rect x="532" y="624" width="2" height="3" fill="#FF0000"/>
<rect x="534" y="623" width="1" height="3" fill="#FF0000"/>
<rect x="535" y="622" width="2" height="3" fill="#FF0000"/>
<rect x="537" y="621" width="2" height="3" fill="#FF0000"/>
<rect x="539" y="620" width="1" height="3" fill="#FF0000"/>
<rect x="540" y="619" width="2" height="3" fill="#FF0000"/>
<rect x="542" y="618" width="2" height="3" fill="#FF0000"/>
<rect x="544" y="617" width="2" height="3" fill="#FF0000"/>
<rect x="546" y="616" width="1" height="3" fill="#FF0000"/>
<rect x="547" y="615" width="2" height="3" fill="#FF0000"/>
<rect x="549" y="614" width="2" height="3" fill="#FF0000"/>
<rect x="551" y="613" width="1" height="3" fill="#FF0000"/>
<rect x="552" y="612" width="2" height="3" fill="#FF0000"/>
<rect x="554" y="611" width="1" height="3" fill="#FF0000"/>
<rect x="555" y="610" width="2" height="3" fill="#FF0000"/>
<rect x="557" y="609" width="3" height="3" fill="#FF0000"/>
<rect x="560" y="608" width="2" height="3" fill="#FF0000"/>
<rect x="562" y="607" width="2" height="3" fill="#FF0000"/>
<rect x="564" y="606" width="1" height="3" fill="#FF0000"/>
<rect x="565" y="605" width="2" height="3" fill="#FF0000"/>
<rect x="567" y="604" width="2" height="3" fill="#FF0000"/>
<rect x="569" y="603" width="2" height="3" fill="#FF0000"/>
<rect x="571" y="602" width="1" height="3" fill="#FF0000"/>
<rect x="572" y="601" width="4" height="3" fill="#FF0000"/>
<rect x="576" y="600" width="8" height="3" fill="#FF0000"/>
<rect x="584" y="599" width="21" height="3" fill="#FF0000"/>
<rect x="605" y="600" width="4" height="3" fill="#FF0000"/>
<rect x="609" y="601" width="4" height="3" fill="#FF0000"/>
<rect x="613" y="602" width="4" height="3" fill="#FF0000"/>
<rect x="617" y="603" width="5" height="3" fill="#FF0000"/>
<rect x="622" y="604" width="5" height="3" fill="#FF0000"/>
<rect x="627" y="605" width="4" height="3" fill="#FF0000"/>
<rect x="631" y="606" width="3" height="3" fill="#FF0000"/>
<rect x="634" y="607" width="2" height="3" fill="#FF0000"/>
<rect x="636" y="608" width="2" height="3" fill="#FF0000"/>
<rect x="638" y="609" width="4" height="3" fill="#FF0000"/>
<rect x="642" y="610" width="3" height="3" fill="#FF0000"/>
<rect x="645" y="611" width="6" height="3" fill="#FF0000"/>
<rect x="651" y="612" width="6" height="3" fill="#FF0000"/>
<rect x="657" y="613" width="12" height="3" fill="#FF0000"/>
<rect x="669" y="614" width="12" height="3" fill="#FF0000"/>
<rect x="681" y="613" width="6" height="3" fill="#FF0000"/>
<rect x="687" y="612" width="5" height="3" fill="#FF0000"/>
<rect x="692" y="611" width="5" height="3" fill="#FF0000"/>
<rect x="697" y="610" width="3" height="3" fill="#FF0000"/>
<rect x="700" y="609" width="3" height="3" fill="#FF0000"/>
<rect x="703" y="608" width="3" height="3" fill="#FF0000"/>
<rect x="706" y="607" width="2" height="3" fill="#FF0000"/>
<rect x="708" y="606" width="2" height="3" fill="#FF0000"/>
<rect x="710" y="605" width="3" height="3" fill="#FF0000"/>
<rect x="713" y="604" width="2" height="3" fill="#FF0000"/>
<rect x="715" y="603" width="2" height="3" fill="#FF0000"/>
<rect x="717" y="602" width="2" height="3" fill="#FF0000"/>
<rect x="719" y="601" width="3" height="3" fill="#FF0000"/>
<rect x="722" y="600" width="2" height="3" fill="#FF0000"/>
<rect x="724" y="599" width="3" height="3" fill="#FF0000"/>
<rect x="727" y="598" width="2" height="3" fill="#FF0000"/>
<rect x="729" y="597" width="2" height="3" fill="#FF0000"/>
<rect x="731" y="596" width="3" height="3" fill="#FF0000"/>
<rect x="734" y="595" width="3" height="3" fill="#FF0000"/>
<rect x="737" y="594" width="3" height="3" fill="#FF0000"/>
<rect x="740" y="593" width="3" height="3" fill="#FF0000"/>
<rect x="743" y="592" width="5" height="3" fill="#FF0000"/>
<rect x="748" y="591" width="5" height="3" fill="#FF0000"/>
<rect x="753" y="590" width="17" height="3" fill="#FF0000"/>
<rect x="770" y="591" width="9" height="3" fill="#FF0000"/>
<rect x="779" y="592" width="3" height="3" fill="#FF0000"/>
<rect x="782" y="593" width="6" height="3" fill="#FF0000"/>
<rect x="788" y="594" width="18" height="3" fill="#FF0000"/>
<rect x="806" y="593" width="1" height="3" fill="#FF0000"/>
<rect x="807" y="592" width="1" height="3" fill="#FF0000"/>
<rect x="808" y="591" width="5" height="3" fill="#FF0000"/>
<rect x="813" y="590" width="4" height="3" fill="#FF0000"/>
<rect x="817" y="589" width="2" height="3" fill="#FF0000"/>
<rect x="819" y="588" width="2" height="3" fill="#FF0000"/>
<rect x="821" y="587" width="2" height="3" fill="#FF0000"/>
<rect x="823" y="586" width="2" height="3" fill="#FF0000"/>
<rect x="825" y="585" width="2" height="3" fill="#FF0000"/>
<rect x="827" y="584" width="3" height="3" fill="#FF0000"/>
<rect x="830" y="583" width="2" height="3" fill="#FF0000"/>
<rect x="832" y="582" width="3" height="3" fill="#FF0000"/>
<rect x="835" y="581" width="4" height="3" fill="#FF0000"/>
<rect x="839" y="580" width="4" height="3" fill="#FF0000"/>
<rect x="843" y="579" width="6" height="3" fill="#FF0000"/>
<rect x="849" y="578" width="9" height="3" fill="#FF0000"/>
<rect x="858" y="577" width="7" height="3" fill="#FF0000"/>
<rect x="865" y="576" width="7" height="3" fill="#FF0000"/>
<rect x="872" y="575" width="23" height="3" fill="#FF0000"/>
<rect x="895" y="576" width="1" height="3" fill="#FF0000"/>
<rect x="896" y="577" width="4" height="3" fill="#FF0000"/>
<rect x="900" y="578" width="3" height="3" fill="#FF0000"/>
<rect x="903" y="579" width="2" height="3" fill="#FF0000"/>
<rect x="905" y="580" width="2" height="3" fill="#FF0000"/>
<rect x="907" y="581" width="2" height="3" fill="#FF0000"/>
<rect x="909" y="582" width="1" height="3" fill="#FF0000"/>
<rect x="910" y="583" width="2" height="3" fill="#FF0000"/>
<rect x="912" y="584" width="1" height="3" fill="#FF0000"/>
<rect x="913" y="585" width="1" height="3" fill="#FF0000"/>
<rect x="914" y="586" width="1" height="3" fill="#FF0000"/>
<rect x="915" y="587" width="2" height="3" fill="#FF0000"/>
<rect x="917" y="588" width="1" height="3" fill="#FF0000"/>
<rect x="918" y="589" width="1" height="3" fill="#FF0000"/>
<rect x="919" y="590" width="2" height="3" fill="#FF0000"/>
<rect x="921" y="591" width="1" height="3" fill="#FF0000"/>
<rect x="922" y="592" width="1" height="3" fill="#FF0000"/>
<rect x="923" y="593" width="2" height="3" fill="#FF0000"/>
<rect x="925" y="594" width="1" height="3" fill="#FF0000"/>
<rect x="926" y="595" width="2" height="3" fill="#FF0000"/>
<rect x="928" y="596" width="1" height="3" fill="#FF0000"/>
<rect x="929" y="597" width="2" height="3" fill="#FF0000"/>
<rect x="931" y="598" width="2" height="3" fill="#FF0000"/>
<rect x="933" y="599" width="2" height="3" fill="#FF0000"/>
<rect x="935" y="600" width="3" height="3" fill="#FF0000"/>
<rect x="938" y="601" width="3" height="3" fill="#FF0000"/>
<rect x="941" y="602" width="45" height="3" fill="#FF0000"/>
<rect x="1238" y="35" width="2" height="1" fill="#000"/>
<text x="1243.5" y="38" font-size="10.2" fill="#000" text-anchor="start" textLength="32.6" lengthAdjust="spacingAndGlyphs" stroke="#000" stroke-width="0.3">1.34155</text>
<rect x="1238" y="67" width="2" height="1" fill="#000"/>
<text x="1243.5" y="70" font-size="10.2" fill="#000" text-anchor="start" textLength="32.6" lengthAdjust="spacingAndGlyphs" stroke="#000" stroke-width="0.3">1.33570</text>
<rect x="1238" y="99" width="2" height="1" fill="#000"/>
<text x="1243.5" y="102" font-size="10.2" fill="#000" text-anchor="start" textLength="32.6" lengthAdjust="spacingAndGlyphs" stroke="#000" stroke-width="0.3">1.32985</text>
<rect x="1238" y="131" width="2" height="1" fill="#000"/>
<text x="1243.5" y="134" font-size="10.2" fill="#000" text-anchor="start" textLength="32.6" lengthAdjust="spacingAndGlyphs" stroke="#000" stroke-width="0.3">1.32400</text>
<rect x="1238" y="163" width="2" height="1" fill="#000"/>
<text x="1243.5" y="166" font-size="10.2" fill="#000" text-anchor="start" textLength="32.6" lengthAdjust="spacingAndGlyphs" stroke="#000" stroke-width="0.3">1.31815</text>
<rect x="1238" y="195" width="2" height="1" fill="#000"/>
<text x="1243.5" y="198" font-size="10.2" fill="#000" text-anchor="start" textLength="32.6" lengthAdjust="spacingAndGlyphs" stroke="#000" stroke-width="0.3">1.31230</text>
<rect x="1238" y="227" width="2" height="1" fill="#000"/>
<text x="1243.5" y="230" font-size="10.2" fill="#000" text-anchor="start" textLength="32.6" lengthAdjust="spacingAndGlyphs" stroke="#000" stroke-width="0.3">1.30645</text>
<rect x="1238" y="259" width="2" height="1" fill="#000"/>
<text x="1243.5" y="262" font-size="10.2" fill="#000" text-anchor="start" textLength="32.6" lengthAdjust="spacingAndGlyphs" stroke="#000" stroke-width="0.3">1.30045</text>
<rect x="1238" y="291" width="2" height="1" fill="#000"/>
<text x="1243.5" y="294" font-size="10.2" fill="#000" text-anchor="start" textLength="32.6" lengthAdjust="spacingAndGlyphs" stroke="#000" stroke-width="0.3">1.29460</text>
<rect x="1238" y="323" width="2" height="1" fill="#000"/>
<text x="1243.5" y="326" font-size="10.2" fill="#000" text-anchor="start" textLength="32.6" lengthAdjust="spacingAndGlyphs" stroke="#000" stroke-width="0.3">1.28875</text>
<rect x="1238" y="355" width="2" height="1" fill="#000"/>
<text x="1243.5" y="358" font-size="10.2" fill="#000" text-anchor="start" textLength="32.6" lengthAdjust="spacingAndGlyphs" stroke="#000" stroke-width="0.3">1.28290</text>
<rect x="1238" y="419" width="2" height="1" fill="#000"/>
<text x="1243.5" y="422" font-size="10.2" fill="#000" text-anchor="start" textLength="32.6" lengthAdjust="spacingAndGlyphs" stroke="#000" stroke-width="0.3">1.27120</text>
<rect x="1238" y="451" width="2" height="1" fill="#000"/>
<text x="1243.5" y="454" font-size="10.2" fill="#000" text-anchor="start" textLength="32.6" lengthAdjust="spacingAndGlyphs" stroke="#000" stroke-width="0.3">1.26535</text>
<rect x="1238" y="483" width="2" height="1" fill="#000"/>
<text x="1243.5" y="486" font-size="10.2" fill="#000" text-anchor="start" textLength="32.6" lengthAdjust="spacingAndGlyphs" stroke="#000" stroke-width="0.3">1.25950</text>
<rect x="1238" y="515" width="2" height="1" fill="#000"/>
<text x="1243.5" y="518" font-size="10.2" fill="#000" text-anchor="start" textLength="32.6" lengthAdjust="spacingAndGlyphs" stroke="#000" stroke-width="0.3">1.25365</text>
<rect x="1238" y="547" width="2" height="1" fill="#000"/>
<text x="1243.5" y="550" font-size="10.2" fill="#000" text-anchor="start" textLength="32.6" lengthAdjust="spacingAndGlyphs" stroke="#000" stroke-width="0.3">1.24780</text>
<rect x="1239" y="380" width="38" height="11" fill="#000"/>
<rect x="1238" y="386" width="1" height="1" fill="#000"/>
<text x="1243.5" y="389" font-size="10.2" fill="#FFF" text-anchor="start" textLength="32.6" lengthAdjust="spacingAndGlyphs" stroke="#FFF" stroke-width="0.3">1.27735</text>
<rect x="1238" y="553" width="1" height="1" fill="#000"/>
<rect x="1238" y="592" width="1" height="1" fill="#000"/>
<rect x="1238" y="637" width="1" height="1" fill="#000"/>
<svg x="1238" y="540" width="39" height="110" viewBox="1238 540 39 110">
<text x="1241.5" y="562" font-size="10.2" fill="#000" text-anchor="start" textLength="38.3" lengthAdjust="spacingAndGlyphs" stroke="#000" stroke-width="0.3">0.009329</text>
</svg>
<text x="1241.5" y="595.5" font-size="10.2" fill="#000" text-anchor="start" textLength="18" lengthAdjust="spacingAndGlyphs" stroke="#000" stroke-width="0.3">0.00</text>
<text x="1241.5" y="635.5" font-size="10.2" fill="#000" text-anchor="start" textLength="35.5" lengthAdjust="spacingAndGlyphs" stroke="#000" stroke-width="0.3">-0.01057</text>
<rect x="4" y="639" width="1" height="3" fill="#000"/>
<text x="3.7" y="651" font-size="10.2" fill="#000" text-anchor="start" textLength="46" lengthAdjust="spacingAndGlyphs" stroke="#000" stroke-width="0.3">16 Jul 2010</text>
<rect x="68" y="639" width="1" height="3" fill="#000"/>
<text x="67.7" y="651" font-size="10.2" fill="#000" text-anchor="start" textLength="48.2" lengthAdjust="spacingAndGlyphs" stroke="#000" stroke-width="0.3">20 Jul 20:00</text>
<rect x="132" y="639" width="1" height="3" fill="#000"/>
<text x="131.7" y="651" font-size="10.2" fill="#000" text-anchor="start" textLength="48" lengthAdjust="spacingAndGlyphs" stroke="#000" stroke-width="0.3">23 Jul 12:00</text>
<rect x="196" y="639" width="1" height="3" fill="#000"/>
<text x="195.7" y="651" font-size="10.2" fill="#000" text-anchor="start" textLength="48.5" lengthAdjust="spacingAndGlyphs" stroke="#000" stroke-width="0.3">28 Jul 04:00</text>
<rect x="260" y="639" width="1" height="3" fill="#000"/>
<text x="259.7" y="651" font-size="10.2" fill="#000" text-anchor="start" textLength="48" lengthAdjust="spacingAndGlyphs" stroke="#000" stroke-width="0.3">30 Jul 20:00</text>
<rect x="324" y="639" width="1" height="3" fill="#000"/>
<text x="323.7" y="651" font-size="10.2" fill="#000" text-anchor="start" textLength="50" lengthAdjust="spacingAndGlyphs" stroke="#000" stroke-width="0.3">4 Aug 12:00</text>
<rect x="388" y="639" width="1" height="3" fill="#000"/>
<text x="387.7" y="651" font-size="10.2" fill="#000" text-anchor="start" textLength="49.5" lengthAdjust="spacingAndGlyphs" stroke="#000" stroke-width="0.3">9 Aug 04:00</text>
<rect x="452" y="639" width="1" height="3" fill="#000"/>
<text x="451.7" y="651" font-size="10.2" fill="#000" text-anchor="start" textLength="54" lengthAdjust="spacingAndGlyphs" stroke="#000" stroke-width="0.3">11 Aug 20:00</text>
<rect x="516" y="639" width="1" height="3" fill="#000"/>
<text x="515.7" y="651" font-size="10.2" fill="#000" text-anchor="start" textLength="54" lengthAdjust="spacingAndGlyphs" stroke="#000" stroke-width="0.3">16 Aug 12:00</text>
<rect x="580" y="639" width="1" height="3" fill="#000"/>
<text x="579.7" y="651" font-size="10.2" fill="#000" text-anchor="start" textLength="53.7" lengthAdjust="spacingAndGlyphs" stroke="#000" stroke-width="0.3">19 Aug 04:00</text>
<rect x="644" y="639" width="1" height="3" fill="#000"/>
<text x="643.7" y="651" font-size="10.2" fill="#000" text-anchor="start" textLength="55" lengthAdjust="spacingAndGlyphs" stroke="#000" stroke-width="0.3">23 Aug 20:00</text>
<rect x="708" y="639" width="1" height="3" fill="#000"/>
<text x="707.7" y="651" font-size="10.2" fill="#000" text-anchor="start" textLength="54.5" lengthAdjust="spacingAndGlyphs" stroke="#000" stroke-width="0.3">26 Aug 12:00</text>
<rect x="772" y="639" width="1" height="3" fill="#000"/>
<text x="771.7" y="651" font-size="10.2" fill="#000" text-anchor="start" textLength="54" lengthAdjust="spacingAndGlyphs" stroke="#000" stroke-width="0.3">31 Aug 04:00</text>
<rect x="836" y="639" width="1" height="3" fill="#000"/>
<text x="835.7" y="651" font-size="10.2" fill="#000" text-anchor="start" textLength="48.5" lengthAdjust="spacingAndGlyphs" stroke="#000" stroke-width="0.3">2 Sep 20:00</text>
<rect x="900" y="639" width="1" height="3" fill="#000"/>
<text x="899.7" y="651" font-size="10.2" fill="#000" text-anchor="start" textLength="48" lengthAdjust="spacingAndGlyphs" stroke="#000" stroke-width="0.3">7 Sep 12:00</text>
<rect x="964" y="639" width="1" height="3" fill="#000"/>
<text x="963.7" y="651" font-size="10.2" fill="#000" text-anchor="start" textLength="54" lengthAdjust="spacingAndGlyphs" stroke="#000" stroke-width="0.3">10 Sep 04:00</text>
<text x="8.5" y="18" font-size="10.2" fill="#000" text-anchor="start" textLength="199.5" lengthAdjust="spacingAndGlyphs" xml:space="preserve" stroke="#000" stroke-width="0.3">EURUSD,H4&#160;&#160;1.27064 1.27952 1.27028 1.27735</text>
<text x="7.8" y="565" font-size="10.2" fill="#000" text-anchor="start" textLength="154" lengthAdjust="spacingAndGlyphs" stroke="#000" stroke-width="0.3">MACD(12,26,9) -0.001545 -0.002399</text>
<rect x="635.5" y="106.5" width="130" height="24" fill="#FFF" stroke="#7A6A58" stroke-width="1"/>
<rect x="698" y="104" width="3" height="2" fill="#000080"/>
<rect x="699" y="105" width="1" height="1" fill="#FFF"/>
<text x="635.9" y="124.8" font-size="20.3" fill="#000080" text-anchor="start" textLength="128" lengthAdjust="spacingAndGlyphs" xml:space="preserve" stroke="#000080" stroke-width="0.3">EUR/USD&#160;&#160;H4</text>
<path d="M1008.5,281.5 h4 v7 h3 l-1.2,0.4 l-3.8,2.7 l-3.8,-2.7 l-1.2,-0.4 h3 z" fill="#FFF" stroke="#FF1800" stroke-width="0.9" shape-rendering="geometricPrecision"/>
<path d="M1016.5,359.5 h4 v7 h3 l-1.2,0.4 l-3.8,2.7 l-3.8,-2.7 l-1.2,-0.4 h3 z" fill="#FFF" stroke="#FF1800" stroke-width="0.9" shape-rendering="geometricPrecision"/>
<path d="M1018.1,461.5 h3.8 v-6 h3.6 l-5.5,-4.7 l-5.5,4.7 h3.6 z" fill="#FFF" stroke="#FF2030" stroke-width="0.9" shape-rendering="geometricPrecision"/>
<path d="M983.5,7 L993.5,7 L988.5,12.5 Z" fill="#6E8095" shape-rendering="geometricPrecision"/>
</svg>
</body></html>
